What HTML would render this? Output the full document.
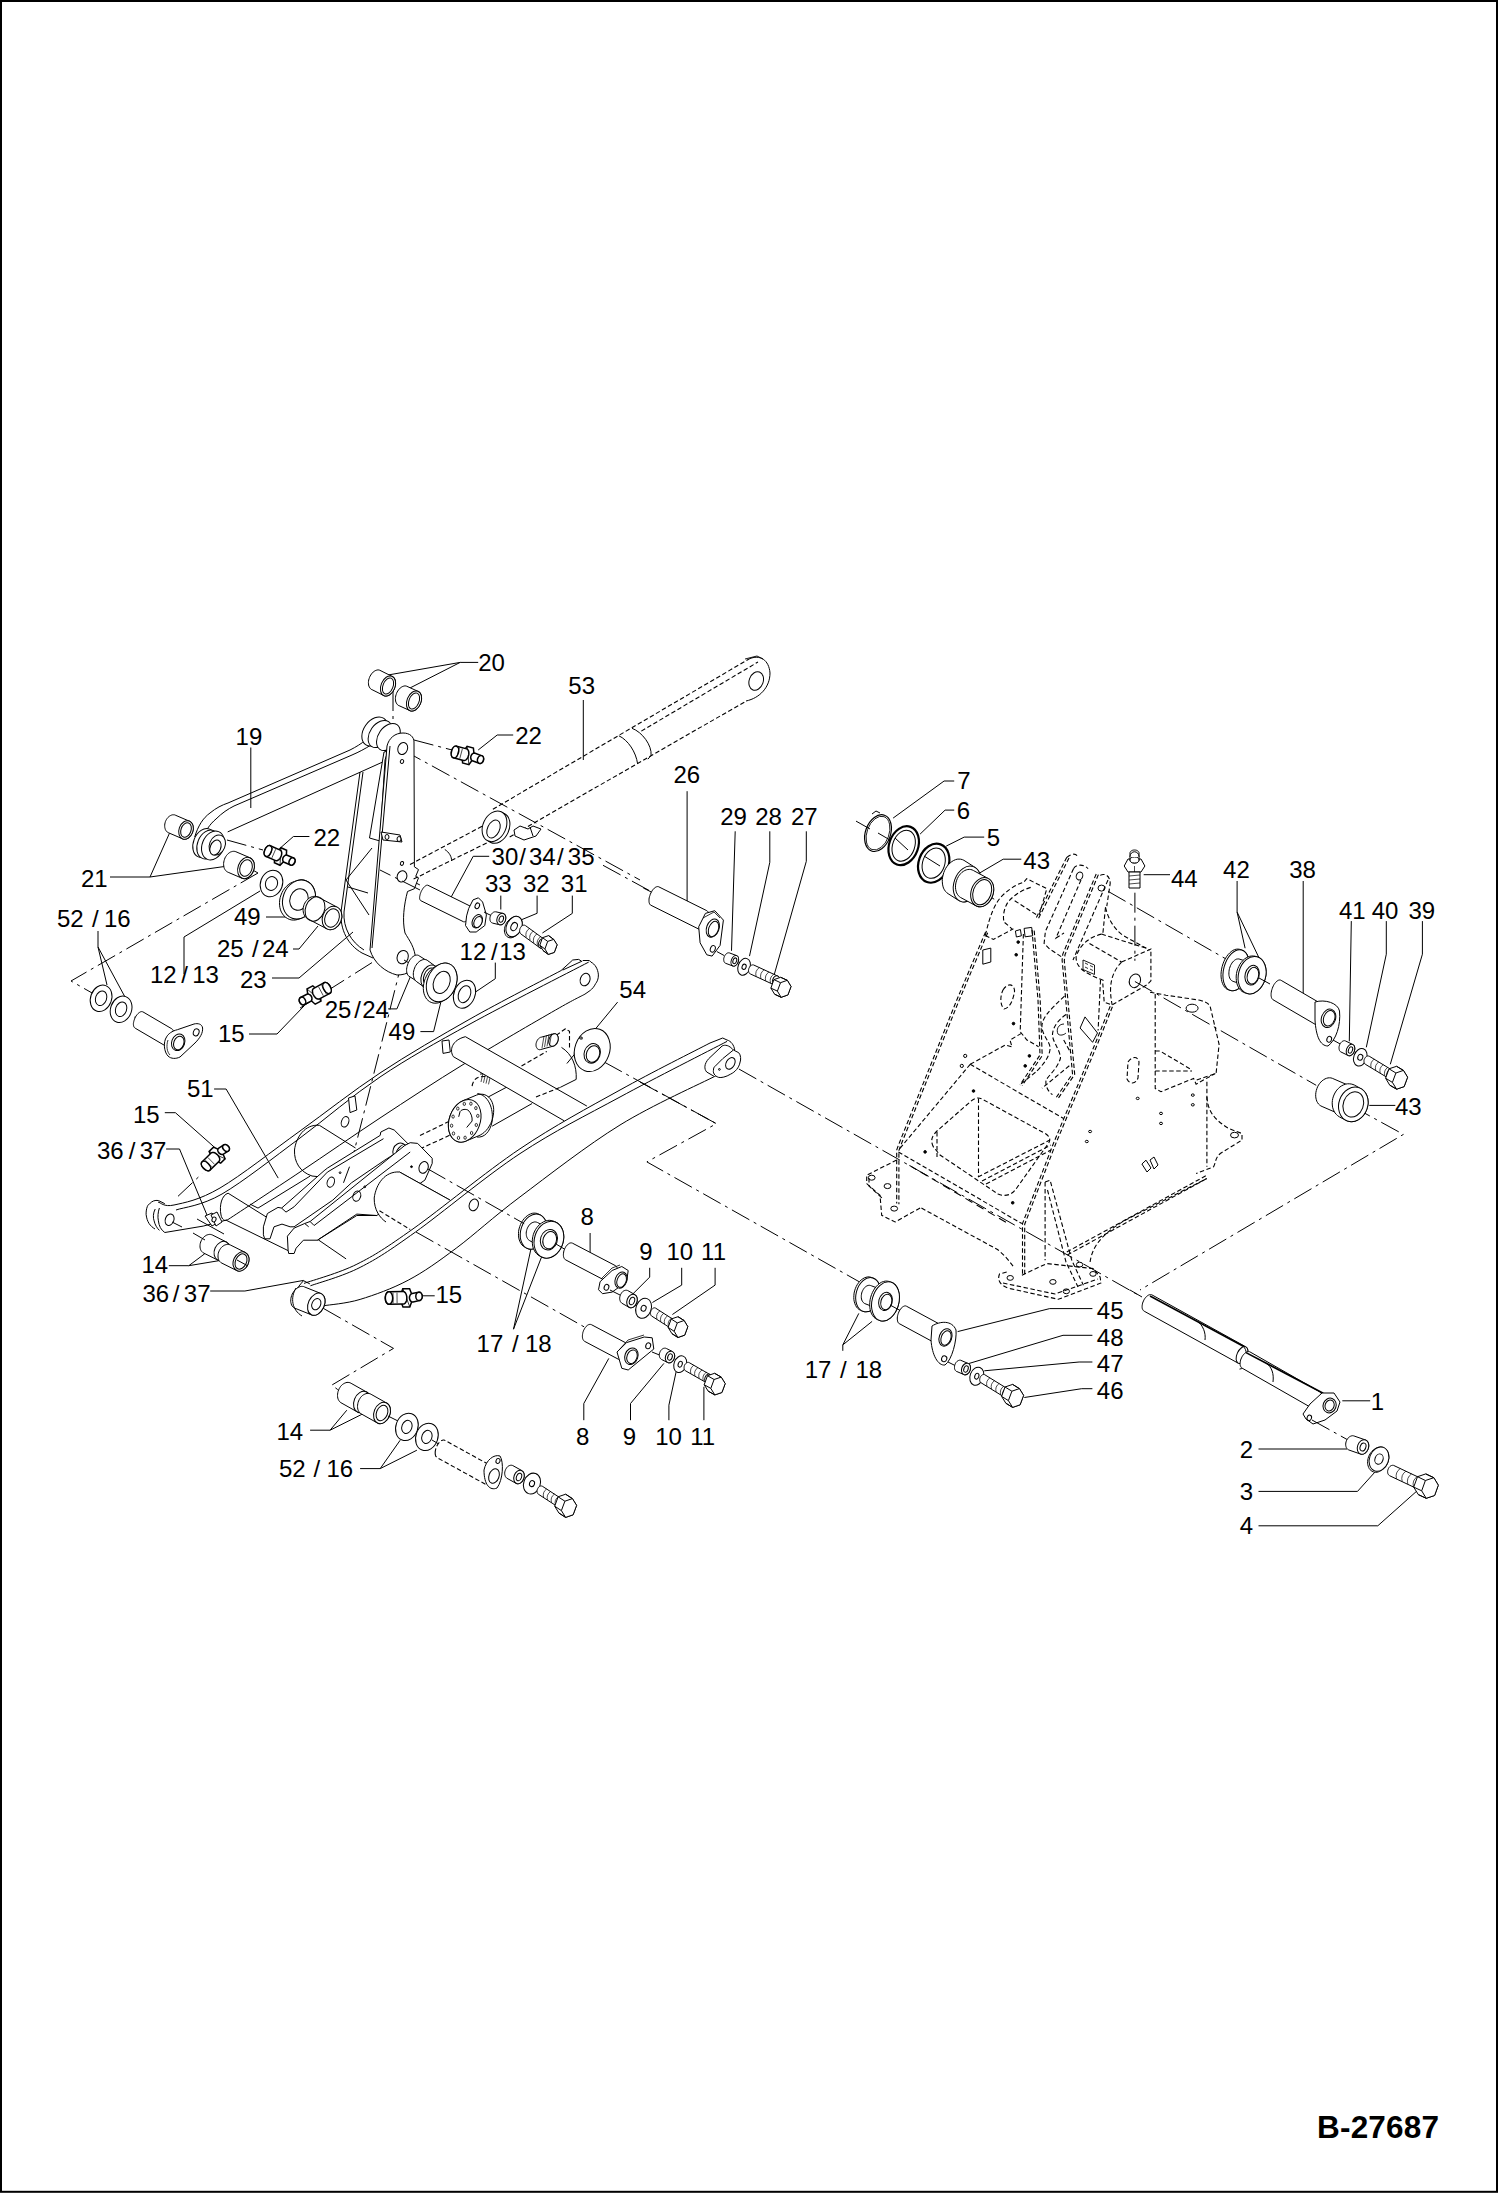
<!DOCTYPE html>
<html><head><meta charset="utf-8">
<style>
html,body{margin:0;padding:0;background:#fff;}
body{width:1498px;height:2193px;overflow:hidden;position:relative;}
svg{position:absolute;left:0;top:0;}
text{font-family:"Liberation Sans",sans-serif;font-size:24px;fill:#000;}
.l{stroke:#000;stroke-width:1;fill:none;}
.p{stroke:#000;stroke-width:1;fill:#fff;}
.c{stroke:#000;stroke-width:1;fill:none;stroke-dasharray:20 5 3 5;}
.d{stroke:#000;stroke-width:1.1;fill:none;stroke-dasharray:4.5 2.5;}
.d2{stroke:#000;stroke-width:1.1;fill:none;stroke-dasharray:8 5;}
</style></head>
<body>
<svg width="1498" height="2193" viewBox="0 0 1498 2193">
<rect x="1" y="1" width="1496" height="2190.8" fill="none" stroke="#000" stroke-width="2"/>
<text x="1317" y="2137.5" style="font-weight:bold;font-size:31.5px;letter-spacing:0.2px">B-27687</text>
<polyline class="l" points="250.8,747.5 250.8,808"/>
<polyline class="l" points="309.4,836.5 293.4,836.5 280.3,848"/>
<polyline class="l" points="110,877 150,877 170,832"/>
<polyline class="l" points="150,877 228,866"/>
<polyline class="l" points="98,931 98,947 107,985"/>
<polyline class="l" points="98,947 125,997"/>
<polyline class="l" points="266,917 294,917"/>
<polyline class="l" points="293,949 299,949 318,926"/>
<polyline class="l" points="184,974 184,937 260,891"/>
<polyline class="l" points="272,978 299,978 353,932"/>
<polyline class="l" points="249,1034 277,1034 304,1006"/>
<polyline class="l" points="214.1,1089 226.1,1089 278.2,1178.1"/>
<polyline class="l" points="460.2,662.4 478.2,662.4"/>
<polyline class="l" points="460.2,662.4 388,675"/>
<polyline class="l" points="460.2,662.4 406,690"/>
<polyline class="l" points="583.3,700 583.3,760"/>
<polyline class="l" points="513.2,735 497.2,735 478.2,750"/>
<polyline class="l" points="489.2,856.3 473.2,856.3 447.2,904.4"/>
<polyline class="l" points="500.8,895.6 500.8,909.5"/>
<polyline class="l" points="537.1,895.6 537.1,913.3 521.6,919.7"/>
<polyline class="l" points="572.3,895.6 572.3,913.4 542.4,933"/>
<polyline class="l" points="687.1,791.2 687.1,907.4"/>
<polyline class="l" points="735.2,831.3 731.5,950.8"/>
<polyline class="l" points="769.8,831.3 769.8,862.3 749.5,956.1"/>
<polyline class="l" points="806.3,831.3 806.3,861.3 774.2,974.8"/>
<polyline class="l" points="954.2,781 944.1,781 893.1,818.1"/>
<polyline class="l" points="954.2,810.1 945.1,810.1 920.1,834.1"/>
<polyline class="l" points="984.2,837.1 964.2,837.1 946.2,846.1"/>
<polyline class="l" points="1021.3,859.2 1003.2,859.2 974.2,876.2"/>
<polyline class="l" points="1143.7,874.7 1170,874.7"/>
<polyline class="l" points="1237.1,881 1237.1,912.1 1245.1,948.2"/>
<polyline class="l" points="1237.1,912.1 1259.2,958.2"/>
<polyline class="l" points="1303.2,881 1303.2,997.2"/>
<polyline class="l" points="1351.3,921.1 1349.3,1041.3"/>
<polyline class="l" points="1386.3,921.1 1386.3,954.2 1366.3,1047.3"/>
<polyline class="l" points="1422.4,921.1 1422.4,954.2 1390.3,1064.3"/>
<polyline class="l" points="1395.3,1105.4 1369.3,1105.4"/>
<polyline class="l" points="617.6,1002.1 566.9,1063.5"/>
<polyline class="l" points="420.4,1031.6 433.6,1031.6 441.7,998.6"/>
<polyline class="l" points="495.3,962.6 495.3,978.7 475.5,992"/>
<polyline class="l" points="590.1,1233 590.1,1257.1"/>
<polyline class="l" points="649.7,1267.8 649.7,1277.1 632.3,1294.5"/>
<polyline class="l" points="681.7,1267.8 681.7,1285.1 652.4,1302.5"/>
<polyline class="l" points="715.1,1267.8 715.1,1285.1 672.4,1314.5"/>
<polyline class="l" points="434.7,1295.8 420,1295.8"/>
<polyline class="l" points="513.5,1329.2 530.9,1249.1"/>
<polyline class="l" points="513.5,1329.2 541.5,1257.1"/>
<polyline class="l" points="164.8,1112.7 175.4,1112.7 215.5,1148.2"/>
<polyline class="l" points="166.1,1149 179.5,1149 207.5,1216.3"/>
<polyline class="l" points="168.8,1265.7 188.8,1265.7 204.8,1253.7"/>
<polyline class="l" points="188.8,1265.7 228.9,1259"/>
<polyline class="l" points="210.2,1291 244.9,1291 303.6,1280.4"/>
<polyline class="l" points="388.1,1008.9 396.9,1008.9 413.8,968.5"/>
<polyline class="l" points="1092.4,1308.6 1049.7,1308.6 957.6,1331.6"/>
<polyline class="l" points="1092.4,1335.3 1063,1335.3 966.9,1364.1"/>
<polyline class="l" points="1092.4,1362 1079.1,1362 984.3,1370.8"/>
<polyline class="l" points="1092.4,1388.7 1081.7,1388.7 1024.3,1397.5"/>
<polyline class="l" points="842.8,1350.8 842.8,1344.9 858.8,1313.4"/>
<polyline class="l" points="842.8,1344.9 872.1,1321.4"/>
<polyline class="l" points="1342.3,1400.8 1370.2,1400.8"/>
<polyline class="l" points="1258.5,1449 1347.3,1449"/>
<polyline class="l" points="1258.5,1491.4 1357.5,1491.4 1375.2,1471.8"/>
<polyline class="l" points="1258.5,1525.8 1377.8,1525.8 1417.1,1490.8"/>
<polyline class="l" points="310.1,1430.2 330.1,1430.2 346.8,1410.2"/>
<polyline class="l" points="330.1,1430.2 363.5,1413.5"/>
<polyline class="l" points="360.1,1468.6 380.2,1468.6 400.2,1440.2"/>
<polyline class="l" points="380.2,1468.6 416.9,1450.2"/>
<polyline class="l" points="583.8,1420.2 583.8,1403.5 608.8,1358.4"/>
<polyline class="l" points="630.5,1420.2 630.5,1403.5 663.9,1363.4"/>
<polyline class="l" points="668.9,1420.2 668.9,1405.2 677.2,1366.8"/>
<polyline class="l" points="703.9,1420.2 703.9,1386.8"/>
<polyline class="c" points="227,840 263,850"/>
<polyline class="c" points="258,873 71,981 136,1018"/>
<polyline class="c" points="242,864 258,873"/>
<polyline class="c" points="393,691 393,726"/>
<polyline class="c" points="414,740 452,750"/>
<polyline class="c" points="403,750 640,880"/>
<polyline class="c" points="402,876 420,885"/>
<polyline class="c" points="372,962.6 300,1008.1"/>
<polyline class="c" points="402.8,958.2 377.8,1058 352,1160"/>
<path class="l" d="M194.7,837 C198,826 203,818 210,813 C216,808 222,805 228,803 L350,750 C362,744 372,736 379,727"/>
<path class="l" d="M201.7,841 C205,831 210,824 216,819 C222,813 228,809 234,806 L352,755 C366,749 376,742 385.6,734.7"/>
<polyline class="l" points="227.7,831.9 385.6,760.7"/>
<ellipse class="p" style="fill:#fff" cx="374.7" cy="731.5" rx="11" ry="16" transform="rotate(35 374.7 731.5)"/>
<ellipse class="p" style="fill:#fff" cx="380" cy="734" rx="10" ry="15" transform="rotate(35 380 734)"/>
<ellipse class="p" style="fill:#fff" cx="388.4" cy="737" rx="10" ry="15" transform="rotate(35 388.4 737)"/>
<ellipse class="p" style="fill:#fff" cx="204" cy="843" rx="10.5" ry="15" transform="rotate(22 204 843)"/>
<ellipse class="p" style="fill:#fff" cx="208" cy="844.5" rx="10.5" ry="15" transform="rotate(22 208 844.5)"/>
<ellipse class="p" style="fill:#fff" cx="213" cy="845.5" rx="10.8" ry="15" transform="rotate(22 213 845.5)"/>
<ellipse class="p" style="fill:#fff" cx="217.3" cy="845" rx="7.8" ry="10.4" transform="rotate(22 217.3 845)"/>
<ellipse class="p" style="fill:#fff" cx="215.5" cy="847.5" rx="5.2" ry="7.8" transform="rotate(22 215.5 847.5)"/>
<path class="l" d="M360,772 L341,912 C340,930 348,945 362,953 L373,958"/>
<path class="l" d="M363,772 L344,912 C343,928 351,942 364,950"/>
<polygon class="p" fill="#fff" points="388,751 384,752 369.5,838 380,841 385,760"/>
<path class="p" d="M387,746 C389,738 395,733 403,733 C410,733 414,737 414,742 L414.4,866.8 L418.5,869.6 L415.7,876.4 L418.5,877.8 L414.4,888.7 L407.5,891.5 C404,905 402,920 405,933 C409,940 415,947 415.7,960 C415,970 408,975 397,975 C385,972 374,963 370,950 Z"/>
<path class="l" d="M390,746 L372,948"/>
<ellipse class="p" style="fill:#fff" cx="402.7" cy="748.5" rx="4.8" ry="6.2" transform="rotate(20 402.7 748.5)"/>
<ellipse class="p" style="fill:#fff" cx="402" cy="761.5" rx="1.6" ry="2" transform="rotate(20 402 761.5)"/>
<ellipse class="p" style="fill:#fff" cx="402" cy="863.4" rx="1.6" ry="2" transform="rotate(20 402 863.4)"/>
<ellipse class="p" style="fill:#fff" cx="402" cy="876.4" rx="4.8" ry="5.7" transform="rotate(20 402 876.4)"/>
<ellipse class="p" style="fill:#fff" cx="402.7" cy="957.1" rx="5.5" ry="6.8" transform="rotate(20 402.7 957.1)"/>
<polygon class="p" fill="#fff" points="381,832 400,835 402,842 383,840"/>
<ellipse class="p" style="fill:#fff" cx="387" cy="837" rx="2" ry="2.5" transform="rotate(0 387 837)"/>
<ellipse class="p" style="fill:#fff" cx="399" cy="839" rx="2" ry="2.5" transform="rotate(0 399 839)"/>
<polyline class="l" points="346,880 372,848"/>
<polyline class="l" points="346,880 369,915"/>
<polyline class="l" points="348,887 368,893"/>
<polygon class="p" fill="#fff" points="368.4,682.6 368.5,681.3 368.7,680 369.1,678.7 369.5,677.4 370.1,676.1 370.8,675 371.5,673.9 372.4,672.9 373.2,672 374.2,671.3 375.2,670.7 376.2,670.3 377.1,670 378.1,669.9 379.1,670 379.9,670.3 391.9,676.3 392.8,676.7 393.5,677.3 394.1,678 394.6,678.9 395.1,679.9 395.4,681 395.5,682.1 395.6,683.4 395.5,684.7 395.3,686 394.9,687.3 394.5,688.6 393.9,689.9 393.2,691 392.5,692.1 391.6,693.1 390.8,694 389.8,694.7 388.8,695.3 387.8,695.7 386.9,696 385.9,696.1 384.9,696 384.1,695.7 372.1,689.7 371.2,689.3 370.5,688.7 369.9,688 369.4,687.1 368.9,686.1 368.6,685 368.5,683.9"/>
<ellipse class="p" style="fill:#fff" cx="388" cy="686" rx="7" ry="10.5" transform="rotate(22 388 686)"/>
<ellipse class="p" style="fill:#fff" cx="388" cy="686" rx="5" ry="8.5" transform="rotate(22 388 686)"/>
<polygon class="p" fill="#fff" points="395.4,698.6 395.5,697.3 395.7,696 396.1,694.7 396.5,693.4 397.1,692.1 397.8,691 398.5,689.9 399.4,688.9 400.2,688 401.2,687.3 402.2,686.7 403.2,686.3 404.1,686 405.1,685.9 406.1,686 406.9,686.3 417.9,691.3 418.8,691.7 419.5,692.3 420.1,693 420.6,693.9 421.1,694.9 421.4,696 421.5,697.1 421.6,698.4 421.5,699.7 421.3,701 420.9,702.3 420.5,703.6 419.9,704.9 419.2,706 418.5,707.1 417.6,708.1 416.8,709 415.8,709.7 414.8,710.3 413.8,710.7 412.9,711 411.9,711.1 410.9,711 410.1,710.7 399.1,705.7 398.2,705.3 397.5,704.7 396.9,704 396.4,703.1 395.9,702.1 395.6,701 395.5,699.9"/>
<ellipse class="p" style="fill:#fff" cx="414" cy="701" rx="7" ry="10.5" transform="rotate(22 414 701)"/>
<ellipse class="p" style="fill:#fff" cx="414" cy="701" rx="5" ry="8.5" transform="rotate(22 414 701)"/>
<polygon class="p" fill="#fff" points="164.7,825.2 164.8,824 165.1,822.8 165.4,821.6 165.9,820.5 166.5,819.4 167.2,818.4 167.9,817.5 168.8,816.7 169.7,816 170.6,815.5 171.5,815.1 172.5,814.8 173.4,814.8 174.4,814.8 175.2,815.1 189.2,821.1 190.1,821.5 190.8,822 191.5,822.7 192.1,823.5 192.6,824.4 192.9,825.4 193.2,826.5 193.3,827.6 193.3,828.8 193.2,830 192.9,831.2 192.6,832.4 192.1,833.5 191.5,834.6 190.8,835.6 190.1,836.5 189.2,837.3 188.3,838 187.4,838.5 186.5,838.9 185.5,839.2 184.6,839.2 183.6,839.2 182.8,838.9 168.8,832.9 167.9,832.5 167.2,832 166.5,831.3 165.9,830.5 165.4,829.6 165.1,828.6 164.8,827.5 164.7,826.4"/>
<ellipse class="p" style="fill:#fff" cx="186" cy="830" rx="7" ry="9.5" transform="rotate(20 186 830)"/>
<ellipse class="p" style="fill:#fff" cx="186" cy="830" rx="5" ry="7.5" transform="rotate(20 186 830)"/>
<polygon class="p" fill="#fff" points="223.6,863.4 223.8,862 224.1,860.6 224.5,859.3 225,857.9 225.7,856.7 226.5,855.5 227.4,854.5 228.3,853.5 229.3,852.8 230.4,852.1 231.5,851.7 232.6,851.4 233.7,851.3 234.8,851.4 235.8,851.7 249.8,857.7 250.7,858.1 251.6,858.7 252.3,859.5 253,860.4 253.6,861.5 254,862.6 254.2,863.9 254.4,865.2 254.4,866.6 254.2,868 253.9,869.4 253.5,870.7 253,872.1 252.3,873.3 251.5,874.5 250.6,875.5 249.7,876.5 248.7,877.2 247.6,877.9 246.5,878.3 245.4,878.6 244.3,878.7 243.2,878.6 242.2,878.3 228.2,872.3 227.3,871.9 226.4,871.3 225.7,870.5 225,869.6 224.4,868.5 224,867.4 223.8,866.1 223.6,864.8"/>
<ellipse class="p" style="fill:#fff" cx="246" cy="868" rx="8" ry="11" transform="rotate(20 246 868)"/>
<ellipse class="p" style="fill:#fff" cx="246" cy="868" rx="6" ry="8.5" transform="rotate(20 246 868)"/>
<polygon class="p" fill="#fff" points="286.2,859 280,865.3 274.4,862.8 274.8,854 281,847.7 286.6,850.2" style="stroke-width:1.5"/>
<polyline class="l" points="280,865.3 281,847.7" style="stroke-width:0.8"/>
<polygon class="p" fill="#fff" points="282.7,859.5 282.7,859.1 282.8,858.6 282.9,858.1 283.1,857.6 283.3,857.2 283.6,856.8 283.9,856.4 284.2,856.1 284.6,855.8 284.9,855.5 285.3,855.3 285.7,855.2 286.1,855.1 286.5,855.1 286.9,855.2 287.2,855.3 293.5,858 293.9,858.2 294.1,858.4 294.4,858.7 294.6,859.1 294.8,859.4 294.9,859.9 295,860.3 295,860.8 295,861.2 294.9,861.7 294.8,862.2 294.6,862.6 294.4,863.1 294.1,863.5 293.8,863.9 293.5,864.2 293.1,864.5 292.8,864.8 292.4,865 292,865.1 291.6,865.1 291.2,865.2 290.8,865.1 290.5,865 284.2,862.3 283.9,862.1 283.6,861.9 283.3,861.6 283.1,861.2 282.9,860.9 282.8,860.4 282.7,860" style="stroke-width:1.5"/>
<ellipse class="p" style="fill:#fff;stroke-width:1.5" cx="292" cy="861.5" rx="2.8" ry="3.8" transform="rotate(23.7 292 861.5)"/>
<polygon class="p" fill="#fff" points="264.2,853.1 264.2,852.5 264.3,851.8 264.5,851.1 264.7,850.4 265,849.7 265.3,849 265.6,848.4 266.1,847.8 266.5,847.2 267,846.8 267.5,846.4 268,846 268.5,845.8 269,845.7 269.4,845.6 269.9,845.6 270.3,845.8 280.2,850.1 280.6,850.4 280.9,850.7 281.2,851 281.4,851.5 281.6,852 281.7,852.6 281.7,853.2 281.7,853.9 281.6,854.6 281.4,855.3 281.2,856 280.9,856.7 280.6,857.4 280.2,858 279.8,858.6 279.4,859.1 278.9,859.6 278.4,860 277.9,860.3 277.4,860.5 276.9,860.7 276.5,860.7 276,860.7 275.6,860.6 265.7,856.2 265.3,856 265,855.7 264.7,855.3 264.5,854.9 264.3,854.3 264.2,853.7" style="stroke-width:1.5"/>
<ellipse class="p" style="fill:#fff;stroke-width:1.5" cx="268" cy="851" rx="3.3" ry="5.7" transform="rotate(23.7 268 851)"/>
<polyline class="l" points="272.8,847.9 269,856.6" style="stroke-width:0.7"/>
<polyline class="l" points="275.7,849.2 271.9,857.9" style="stroke-width:0.7"/>
<ellipse class="p" style="fill:#fff" cx="271.5" cy="883.5" rx="11" ry="13.5" transform="rotate(20 271.5 883.5)"/>
<ellipse class="p" style="fill:#fff" cx="271.5" cy="883.5" rx="6" ry="7" transform="rotate(20 271.5 883.5)"/>
<polygon class="p" fill="#fff" points="279.5,902.6 279.7,900.1 280.2,897.5 281,895 282,892.6 283.2,890.4 284.7,888.2 286.4,886.4 288.2,884.7 290.2,883.3 292.3,882.3 294.4,881.5 297.4,880.5 299.6,880 301.7,879.9 303.8,880.1 305.8,880.7 307.7,881.6 309.5,882.8 311.1,884.2 312.4,886 313.6,887.9 314.5,890.1 315.1,892.4 315.4,894.8 315.5,897.4 315.3,899.9 314.8,902.5 314,905 313,907.4 311.8,909.6 310.3,911.8 308.6,913.6 306.8,915.3 304.8,916.7 302.7,917.7 300.6,918.5 297.6,919.5 295.4,920 293.3,920.1 291.2,919.9 289.2,919.3 287.3,918.4 285.5,917.2 283.9,915.8 282.6,914 281.4,912.1 280.5,909.9 279.9,907.6 279.6,905.2"/>
<ellipse class="p" style="fill:#fff" cx="299" cy="899.5" rx="16" ry="20" transform="rotate(20 299 899.5)"/>
<ellipse class="p" style="fill:#fff" cx="299" cy="899.5" rx="9" ry="11" transform="rotate(20 299 899.5)"/>
<polygon class="p" fill="#fff" points="303.1,910.5 303.1,909 303.3,907.4 303.7,905.9 304.2,904.4 304.9,903 305.7,901.7 306.6,900.5 307.6,899.4 308.8,898.4 309.9,897.6 311.2,897 312.5,896.6 313.8,896.4 315.1,896.3 316.3,896.5 317.5,896.9 318.6,897.4 337.6,907.4 338.6,908.2 339.5,909.1 340.3,910.1 340.9,911.3 341.4,912.6 341.7,914 341.9,915.5 341.9,917 341.7,918.6 341.3,920.1 340.8,921.6 340.1,923 339.3,924.3 338.4,925.5 337.4,926.6 336.2,927.6 335.1,928.4 333.8,929 332.5,929.4 331.2,929.6 329.9,929.7 328.7,929.5 327.5,929.1 326.4,928.6 307.4,918.6 306.4,917.8 305.5,916.9 304.7,915.9 304.1,914.7 303.6,913.4 303.3,912"/>
<ellipse class="p" style="fill:#fff" cx="332" cy="918" rx="9.5" ry="12" transform="rotate(22 332 918)"/>
<ellipse class="p" style="fill:#fff" cx="332" cy="918" rx="7" ry="9.5" transform="rotate(22 332 918)"/>
<ellipse class="l" style="fill:none" cx="315" cy="909" rx="9.5" ry="12.5" transform="rotate(22 315 909)"/>
<polygon class="p" fill="#fff" points="474.3,757.2 468.9,764.7 462.6,763 461.7,753.8 467.1,746.3 473.4,748" style="stroke-width:1.5"/>
<polyline class="l" points="468.9,764.7 467.1,746.3" style="stroke-width:0.8"/>
<polygon class="p" fill="#fff" points="470.7,757.8 470.7,757.3 470.8,756.8 470.9,756.3 471.1,755.8 471.3,755.3 471.5,754.9 471.8,754.5 472.1,754.1 472.5,753.8 472.9,753.5 473.2,753.3 473.6,753.2 474.1,753.1 474.4,753.1 474.8,753.2 475.2,753.3 481.9,755.8 482.2,756 482.6,756.2 482.9,756.5 483.1,756.9 483.3,757.3 483.4,757.8 483.5,758.2 483.6,758.7 483.6,759.2 483.5,759.8 483.4,760.3 483.2,760.8 483,761.2 482.8,761.7 482.5,762.1 482.2,762.5 481.8,762.8 481.4,763 481.1,763.2 480.6,763.4 480.2,763.4 479.9,763.4 479.5,763.4 479.1,763.2 472.4,760.8 472,760.6 471.7,760.3 471.4,760 471.2,759.6 471,759.2 470.9,758.8 470.8,758.3" style="stroke-width:1.5"/>
<ellipse class="p" style="fill:#fff;stroke-width:1.5" cx="480.5" cy="759.5" rx="3" ry="4" transform="rotate(15.1 480.5 759.5)"/>
<polygon class="p" fill="#fff" points="451.3,753.4 451.3,752.6 451.4,751.9 451.6,751.1 451.9,750.3 452.1,749.6 452.5,748.9 452.9,748.3 453.3,747.8 453.7,747.3 454.2,746.9 454.7,746.5 455.1,746.3 455.6,746.2 456.1,746.1 456.6,746.2 466.7,748.9 467.1,749.1 467.5,749.4 467.8,749.7 468.1,750.2 468.4,750.7 468.6,751.3 468.7,751.9 468.8,752.6 468.8,753.3 468.8,754.1 468.7,754.9 468.5,755.6 468.2,756.4 468,757.1 467.6,757.8 467.2,758.4 466.8,759 466.4,759.5 465.9,759.9 465.4,760.2 465,760.4 464.5,760.5 464,760.6 463.5,760.5 453.4,757.8 453,757.6 452.6,757.4 452.3,757 452,756.6 451.7,756 451.5,755.5 451.4,754.8 451.3,754.1" style="stroke-width:1.5"/>
<ellipse class="p" style="fill:#fff;stroke-width:1.5" cx="455" cy="752" rx="3.5" ry="6" transform="rotate(15.1 455 752)"/>
<polyline class="l" points="459.3,748 456.7,757.6" style="stroke-width:0.7"/>
<polyline class="l" points="462.4,748.8 459.8,758.5" style="stroke-width:0.7"/>
<polygon class="p" fill="#fff" points="308.3,998.1 307,988.9 312.8,985.8 319.7,991.9 321,1001.1 315.2,1004.2" style="stroke-width:1.5"/>
<polyline class="l" points="307,988.9 321,1001.1" style="stroke-width:0.8"/>
<polygon class="p" fill="#fff" points="299.2,1000 299.3,999.5 299.4,999.1 299.5,998.7 299.7,998.3 300,998 300.3,997.7 300.6,997.5 306.8,994.3 307.2,994.2 307.6,994.1 308,994 308.4,994.1 308.8,994.2 309.2,994.4 309.7,994.6 310.1,994.9 310.4,995.2 310.8,995.6 311.1,996 311.4,996.4 311.6,996.9 311.8,997.4 311.9,997.9 311.9,998.4 312,998.9 311.9,999.3 311.8,999.8 311.7,1000.2 311.5,1000.5 311.2,1000.9 310.9,1001.1 310.6,1001.4 304.4,1004.5 304,1004.7 303.6,1004.8 303.2,1004.8 302.8,1004.8 302.4,1004.7 302,1004.5 301.6,1004.3 301.2,1004 300.8,1003.7 300.4,1003.3 300.1,1002.9 299.9,1002.4 299.6,1002 299.5,1001.5 299.3,1001 299.3,1000.5" style="stroke-width:1.5"/>
<ellipse class="p" style="fill:#fff;stroke-width:1.5" cx="302.5" cy="1001" rx="3" ry="4" transform="rotate(151.7 302.5 1001)"/>
<polygon class="p" fill="#fff" points="312.4,991 312.5,990.4 312.6,989.8 312.8,989.3 313.1,988.9 313.4,988.6 313.8,988.3 324.2,982.7 324.6,982.5 325.1,982.5 325.6,982.5 326.1,982.6 326.6,982.8 327.2,983.1 327.7,983.5 328.2,983.9 328.8,984.5 329.2,985 329.7,985.7 330.1,986.3 330.4,987 330.7,987.8 330.9,988.5 331.1,989.2 331.2,989.9 331.2,990.6 331.1,991.2 331,991.8 330.8,992.2 330.6,992.7 330.2,993 329.8,993.3 319.5,998.9 319.1,999 318.6,999.1 318.1,999.1 317.6,999 317,998.8 316.5,998.5 315.9,998.1 315.4,997.7 314.9,997.1 314.4,996.5 314,995.9 313.6,995.2 313.2,994.5 312.9,993.8 312.7,993.1 312.6,992.4 312.5,991.7" style="stroke-width:1.5"/>
<ellipse class="p" style="fill:#fff;stroke-width:1.5" cx="327" cy="988" rx="3.5" ry="6" transform="rotate(151.7 327 988)"/>
<polyline class="l" points="326.3,994 321.6,985.2" style="stroke-width:0.7"/>
<polyline class="l" points="323.3,995.7 318.6,986.9" style="stroke-width:0.7"/>
<ellipse class="p" style="fill:#fff" cx="101.1" cy="998.3" rx="10.5" ry="13.5" transform="rotate(20 101.1 998.3)"/>
<ellipse class="p" style="fill:#fff" cx="101.1" cy="998.3" rx="5.5" ry="7.5" transform="rotate(20 101.1 998.3)"/>
<ellipse class="p" style="fill:#fff" cx="121.1" cy="1009.3" rx="10.5" ry="13.5" transform="rotate(20 121.1 1009.3)"/>
<ellipse class="p" style="fill:#fff" cx="121.1" cy="1009.3" rx="5.5" ry="7.5" transform="rotate(20 121.1 1009.3)"/>
<polygon class="p" fill="#fff" points="133.4,1024.4 133.4,1023.5 133.6,1022.4 133.8,1021.4 134.1,1020.3 134.5,1019.2 134.9,1018.1 135.4,1017 136.1,1016 136.7,1015.1 137.4,1014.3 138.1,1013.5 138.8,1012.9 139.5,1012.4 140.2,1012 140.9,1011.7 141.6,1011.6 142.2,1011.7 142.8,1011.8 171.8,1028.8 172.3,1029.2 172.7,1029.6 173.1,1030.2 173.3,1030.9 173.5,1031.7 173.6,1032.6 173.6,1033.5 173.4,1034.6 173.2,1035.6 172.9,1036.7 172.5,1037.8 172.1,1038.9 171.6,1040 170.9,1041 170.3,1041.9 169.6,1042.7 168.9,1043.5 168.2,1044.1 167.5,1044.6 166.8,1045 166.1,1045.3 165.4,1045.4 164.8,1045.3 164.2,1045.2 135.2,1028.2 134.7,1027.8 134.3,1027.4 133.9,1026.8 133.7,1026.1 133.5,1025.3"/>
<path class="p" d="M166.6,1036.9 C163,1042 164,1052 168,1056 C171,1059 176,1059 180,1057 L195,1043 C200,1038 203,1033 202.6,1028 C202,1024 198,1023 194,1024 L177.4,1029.7 C172,1031 168,1034 166.6,1036.9 Z"/>
<path class="l" d="M168,1040 C166,1046 167,1052 170,1055" style="stroke-width:0.8"/>
<ellipse class="p" style="fill:#fff" cx="178.2" cy="1042.3" rx="6.5" ry="8.5" transform="rotate(20 178.2 1042.3)"/>
<ellipse class="p" style="fill:#fff" cx="178.8" cy="1043" rx="5" ry="7" transform="rotate(20 178.8 1043)"/>
<ellipse class="p" style="fill:#fff" cx="196.2" cy="1032.3" rx="2.8" ry="3.6" transform="rotate(20 196.2 1032.3)"/>
<polyline class="c" points="404,960 414,966"/>
<polygon class="p" fill="#fff" points="406.6,970.6 406.6,969.2 406.8,967.8 407.1,966.4 407.5,965 408,963.6 408.6,962.2 409.3,960.9 410.1,959.7 410.9,958.6 411.8,957.6 412.8,956.7 413.8,956.1 414.7,955.5 415.7,955.2 416.6,955.1 417.5,955.1 418.3,955.3 419.1,955.8 427.1,960.8 427.7,961.3 428.3,962.1 428.7,963 429.1,964 429.3,965.2 429.4,966.4 429.4,967.8 429.2,969.2 428.9,970.6 428.5,972 428,973.4 427.4,974.8 426.7,976.1 425.9,977.3 425.1,978.4 424.2,979.4 423.2,980.3 422.2,980.9 421.3,981.5 420.3,981.8 419.4,981.9 418.5,981.9 417.7,981.7 416.9,981.2 408.9,976.2 408.3,975.7 407.7,974.9 407.3,974 406.9,973 406.7,971.8"/>
<ellipse class="p" style="fill:#fff" cx="422" cy="971" rx="6.5" ry="11.5" transform="rotate(22 422 971)"/>
<polygon class="p" fill="#fff" points="413.3,974 413.4,972.5 413.7,971 414.1,969.5 414.6,968 415.2,966.6 416,965.2 416.9,964 417.8,962.8 418.9,961.9 419.9,961 421.1,960.4 422.2,959.9 423.3,959.6 424.4,959.5 425.5,959.6 426.5,959.9 427.4,960.4 434.9,965.9 435.8,966.5 436.5,967.4 437.1,968.4 437.6,969.5 437.9,970.8 438.1,972.1 438.2,973.5 438.1,975 437.8,976.5 437.4,978 436.9,979.5 436.3,980.9 435.5,982.3 434.6,983.5 433.7,984.7 432.6,985.6 431.6,986.5 430.4,987.1 429.3,987.6 428.2,987.9 427.1,988 426,987.9 425,987.6 424.1,987.1 416.6,981.6 415.7,981 415,980.1 414.4,979.1 413.9,978 413.6,976.8 413.4,975.4"/>
<ellipse class="p" style="fill:#fff" cx="429.5" cy="976.5" rx="8" ry="12" transform="rotate(22 429.5 976.5)"/>
<ellipse class="p" style="fill:#fff" cx="429.5" cy="976.5" rx="5.5" ry="9" transform="rotate(22 429.5 976.5)"/>
<polygon class="p" fill="#fff" points="423.3,988.5 423.4,986 423.8,983.5 424.4,980.9 425.3,978.5 426.4,976.1 427.6,973.9 429.1,971.8 430.8,969.9 432.6,968.3 434.5,967 436.5,965.9 439.5,964.4 441.5,963.6 443.5,963.2 445.5,963.1 447.4,963.3 449.2,963.9 450.9,964.7 452.4,965.9 453.8,967.4 454.9,969.1 455.8,971 456.5,973.1 456.9,975.4 457.1,977.8 457,980.3 456.6,982.9 456,985.4 455.1,987.8 454.1,990.2 452.8,992.5 451.2,994.5 449.6,996.4 447.8,998 445.9,999.4 443.9,1000.4 440.9,1001.9 438.9,1002.7 436.9,1003.1 434.9,1003.2 433,1003 431.2,1002.4 429.5,1001.6 428,1000.4 426.6,999 425.5,997.2 424.6,995.3 423.9,993.2 423.5,990.9"/>
<ellipse class="p" style="fill:#fff" cx="441.7" cy="982.4" rx="14.5" ry="20" transform="rotate(22 441.7 982.4)"/>
<ellipse class="p" style="fill:#fff" cx="441.7" cy="982.4" rx="8" ry="11.5" transform="rotate(22 441.7 982.4)"/>
<ellipse class="p" style="fill:#fff" cx="464.5" cy="994.2" rx="10.5" ry="14.5" transform="rotate(22 464.5 994.2)"/>
<ellipse class="p" style="fill:#fff" cx="464.5" cy="994.2" rx="5.9" ry="8.8" transform="rotate(22 464.5 994.2)"/>
<polyline class="d" points="410,864.5 486.9,823.7"/>
<polyline class="d" points="413.6,879 494.1,839.3"/>
<path class="l" d="M444.8,849.5 C449,852 452,857 451.5,861"/>
<polyline class="d" points="492.9,809.3 749,659"/>
<polyline class="d" points="509.7,836.9 746.2,701.1"/>
<polyline class="d" points="641.3,731.1 758,662"/>
<path class="l" d="M618.9,735.8 C628,740 636,752 637.6,763.8"/>
<path class="l" d="M632,728.3 C642,732 652,745 651.1,755.4 L647.9,759.2"/>
<path class="l" d="M749,659 C760,654 769,660 770,673 C770,687 760,698 746,701"/>
<path class="l" d="M745,659 L757,656 L763,659" style="stroke-width:0.9"/>
<ellipse class="p" style="fill:#fff" cx="756.2" cy="681" rx="7" ry="9.5" transform="rotate(20 756.2 681)"/>
<ellipse class="l" style="fill:#fff" cx="497.5" cy="828" rx="11.5" ry="16" transform="rotate(25 497.5 828)"/>
<ellipse class="p" style="fill:#fff" cx="494.5" cy="826.3" rx="11.5" ry="16" transform="rotate(25 494.5 826.3)"/>
<ellipse class="p" style="fill:#fff" cx="493.5" cy="829" rx="6" ry="9.5" transform="rotate(25 493.5 829)"/>
<polygon class="p" fill="#fff" points="514,830 520,826 528,829 533,826 541,829 536,836 524,840 515,836"/>
<polyline class="l" points="530,827 533,836"/>
<polyline class="c" points="643.3,888 651.3,892"/>
<polyline class="c" points="603,865.3 649,890.4"/>
<polygon class="p" fill="#fff" points="649,900.2 649,899.1 649.2,897.9 649.5,896.7 649.9,895.5 650.3,894.2 650.9,893 651.5,891.9 652.1,890.8 652.8,889.8 653.5,889 654.3,888.2 655,887.6 655.8,887.1 656.5,886.8 657.2,886.6 657.9,886.6 658.5,886.7 706.8,910.7 707.3,911 707.8,911.5 708.1,912.1 708.4,912.9 708.6,913.7 708.7,914.7 708.7,915.8 708.6,916.9 708.5,918.1 708.2,919.3 707.8,920.5 707.4,921.8 706.8,923 706.2,924.1 705.6,925.2 704.9,926.2 704.2,927 703.4,927.8 702.7,928.4 701.9,928.9 701.2,929.2 700.5,929.4 699.9,929.4 699.2,929.3 651,905.3 650.4,905 650,904.5 649.6,903.9 649.3,903.1 649.1,902.3 649,901.3"/>
<polygon class="p" fill="#fff" points="698.7,926.8 700.1,942.8 706.8,954.8 712.1,956.1 720.1,945.4 723.4,920.1 714.8,910.7 705.4,913.4"/>
<path class="l" d="M703,918 L714,912 L720,918" style="stroke-width:0.8"/>
<ellipse class="p" style="fill:#fff" cx="712.8" cy="928.1" rx="6.2" ry="9.5" transform="rotate(20 712.8 928.1)"/>
<ellipse class="p" style="fill:#fff" cx="713.5" cy="929" rx="4.8" ry="8" transform="rotate(20 713.5 929)"/>
<ellipse class="p" style="fill:#fff" cx="712.8" cy="948.8" rx="2.4" ry="3.4" transform="rotate(20 712.8 948.8)"/>
<polyline class="c" points="716.8,951.5 724.1,955.5"/>
<polygon class="p" fill="#fff" points="723.7,959.6 723.7,959 723.8,958.3 724,957.6 724.2,956.9 724.5,956.2 724.8,955.6 725.2,955 725.6,954.5 726,954 726.5,953.6 727,953.3 727.5,953 728,952.9 728.5,952.8 728.9,952.8 729.4,952.9 736.7,955.6 737.1,955.8 737.5,956.1 737.8,956.5 738.1,956.9 738.3,957.4 738.5,958 738.5,958.6 738.6,959.2 738.6,959.9 738.5,960.6 738.3,961.3 738.1,962 737.8,962.7 737.5,963.3 737.1,963.9 736.7,964.4 736.3,964.9 735.8,965.3 735.3,965.6 734.8,965.9 734.3,966 733.8,966.1 733.4,966.1 732.9,966 725.6,963.3 725.2,963.1 724.8,962.8 724.5,962.4 724.2,962 724,961.5 723.8,960.9 723.8,960.3"/>
<ellipse class="p" style="fill:#fff" cx="734.8" cy="960.8" rx="3.5" ry="5.5" transform="rotate(20 734.8 960.8)"/>
<ellipse class="p" style="fill:#fff" cx="734.8" cy="960.8" rx="1.8" ry="3" transform="rotate(20 734.8 960.8)"/>
<ellipse class="p" style="fill:#fff" cx="744.1" cy="966.8" rx="6" ry="8.7" transform="rotate(20 744.1 966.8)"/>
<ellipse class="p" style="fill:#fff" cx="744.1" cy="966.8" rx="2" ry="2.7" transform="rotate(20 744.1 966.8)"/>
<polygon class="p" fill="#fff" points="748.5,970.8 748.5,970.2 748.6,969.6 748.8,969 748.9,968.4 749.2,967.8 749.5,967.2 749.8,966.7 750.2,966.2 750.6,965.8 751,965.5 751.5,965.2 751.9,965 752.4,964.9 752.9,964.9 753.3,964.9 753.7,965 777.6,976 778,976.2 778.4,976.4 778.7,976.8 779,977.2 779.2,977.6 779.4,978.1 779.5,978.7 779.6,979.2 779.5,979.8 779.5,980.4 779.3,981 779.2,981.6 778.9,982.2 778.6,982.8 778.3,983.3 777.9,983.8 777.5,984.2 777.1,984.5 776.6,984.8 776.2,985 775.7,985.1 775.2,985.1 774.8,985.1 774.4,985 750.5,974 750.1,973.8 749.7,973.6 749.4,973.2 749.1,972.8 748.9,972.4 748.7,971.9 748.6,971.3"/>
<ellipse class="p" style="fill:#fff" cx="776" cy="980.5" rx="3.4" ry="4.8" transform="rotate(20 776 980.5)"/>
<path class="l" d="M759.4,967.5 Q754.6,970.9 756.1,976.5" style="stroke-width:0.7"/>
<path class="l" d="M764.2,969.7 Q759.4,973.1 760.9,978.7" style="stroke-width:0.7"/>
<path class="l" d="M769.0,971.9 Q764.2,975.3 765.7,980.9" style="stroke-width:0.7"/>
<path class="l" d="M773.8,974.1 Q769.0,977.5 770.5,983.1" style="stroke-width:0.7"/>
<polygon class="p" fill="#fff" points="770.9,988.1 773.9,979.6 780.7,977.3 787.3,980.3 791,986.5 787.9,995 781.1,997.3 774.6,994.2"/>
<polygon class="p" fill="#fff" points="787.9,994.9 781.1,997.3 777.4,991.1 780.5,982.7 787.3,980.3 791,986.5"/>
<polyline class="l" points="781.1,997.3 774.6,994.2"/>
<polyline class="l" points="777.4,991.1 770.8,988.1"/>
<polyline class="l" points="780.5,982.7 773.9,979.6"/>
<polyline class="l" points="787.3,980.3 780.7,977.3"/>
<polygon class="p" fill="#fff" points="419.6,897.4 419.7,896.5 419.9,895.6 420.1,894.6 420.4,893.6 420.8,892.5 421.2,891.5 421.7,890.5 422.3,889.6 422.8,888.7 423.4,887.9 424.1,887.1 424.7,886.5 425.3,886 425.9,885.6 426.5,885.3 427.1,885.2 427.6,885.2 428,885.3 470.6,906.3 471,906.6 471.3,906.9 471.5,907.5 471.7,908.1 471.8,908.8 471.8,909.6 471.7,910.5 471.5,911.4 471.3,912.4 471,913.4 470.6,914.5 470.2,915.5 469.7,916.5 469.1,917.4 468.6,918.3 467.9,919.1 467.3,919.9 466.7,920.5 466.1,921 465.5,921.4 464.9,921.7 464.4,921.8 463.9,921.8 463.4,921.7 420.8,900.7 420.4,900.4 420.1,900.1 419.9,899.5 419.7,898.9 419.6,898.2"/>
<polygon class="p" fill="#fff" points="466.6,915.9 465.5,925.5 469.8,932 476.2,932 484.8,925.5 486.4,914.9 482.6,902 478.4,897.8 473,899.9 468.7,908.5"/>
<ellipse class="p" style="fill:#fff" cx="477.3" cy="921.3" rx="4.8" ry="7" transform="rotate(25 477.3 921.3)"/>
<ellipse class="p" style="fill:#fff" cx="478" cy="922" rx="3.8" ry="5.8" transform="rotate(25 478 922)"/>
<ellipse class="p" style="fill:#fff" cx="477.3" cy="905.8" rx="2.1" ry="3" transform="rotate(25 477.3 905.8)"/>
<polyline class="c" points="484,912 492,916"/>
<polygon class="p" fill="#fff" points="489.9,918.3 490,917.5 490.1,916.8 490.4,916 490.7,915.3 491,914.6 491.4,914 491.9,913.5 492.4,913 493,912.5 493.5,912.2 494.1,912 494.7,911.8 495.3,911.8 495.9,911.8 502.8,913.4 503.3,913.6 503.8,913.8 504.3,914.1 504.7,914.5 505.1,915 505.4,915.6 505.6,916.2 505.7,916.9 505.8,917.6 505.8,918.3 505.7,919.1 505.6,919.8 505.3,920.6 505,921.3 504.7,922 504.3,922.6 503.8,923.1 503.3,923.6 502.7,924.1 502.2,924.4 501.6,924.6 501,924.8 500.4,924.8 499.8,924.8 492.9,923.2 492.4,923 491.9,922.8 491.4,922.5 491,922.1 490.6,921.6 490.3,921 490.1,920.4 490,919.7 489.9,919"/>
<ellipse class="p" style="fill:#fff" cx="501.3" cy="919.1" rx="4.3" ry="5.9" transform="rotate(20 501.3 919.1)"/>
<ellipse class="p" style="fill:#fff" cx="501.3" cy="919.1" rx="2.1" ry="3.2" transform="rotate(20 501.3 919.1)"/>
<polygon class="p" fill="#fff" points="504.4,929.7 504.6,928.4 504.9,927 505.3,925.7 505.8,924.4 506.4,923.2 507.2,922 508.1,921 509,920 510,919.2 511.5,918.2 512.5,917.5 513.5,917 514.6,916.6 515.7,916.4 516.7,916.4 517.7,916.6 518.6,916.9 519.5,917.4 520.2,918 520.9,918.9 521.4,919.8 521.8,920.8 522.1,922 522.2,923.2 522.2,924.5 522.1,925.8 521.8,927.1 521.4,928.5 520.9,929.8 520.2,931 519.5,932.2 518.6,933.2 517.7,934.2 516.7,935 515.2,936 514.2,936.7 513.1,937.2 512.1,937.6 511,937.8 510,937.8 509,937.6 508.1,937.3 507.2,936.8 506.5,936.1 505.8,935.4 505.3,934.4 504.9,933.4 504.6,932.2 504.4,931"/>
<ellipse class="p" style="fill:#fff" cx="514.1" cy="926.6" rx="7.5" ry="10.7" transform="rotate(25 514.1 926.6)"/>
<ellipse class="p" style="fill:#fff" cx="514.1" cy="926.6" rx="3" ry="4.3" transform="rotate(25 514.1 926.6)"/>
<polygon class="p" fill="#fff" points="519.6,931.1 519.6,930.5 519.7,929.9 519.9,929.2 520,928.6 520.3,928.1 520.6,927.5 520.9,927 521.3,926.5 521.7,926.1 522.1,925.8 522.6,925.5 523,925.3 523.5,925.2 524,925.1 524.4,925.2 524.8,925.3 525.2,925.5 525.6,925.7 544.4,939.4 544.7,939.8 545,940.2 545.2,940.6 545.4,941.1 545.5,941.7 545.6,942.2 545.5,942.8 545.5,943.4 545.3,944 545.2,944.6 544.9,945.2 544.6,945.8 544.3,946.3 543.9,946.8 543.5,947.2 543.1,947.5 542.6,947.8 542.2,948 541.7,948.1 541.2,948.1 540.8,948.1 540.4,948 540,947.8 539.6,947.6 520.8,933.9 520.5,933.5 520.2,933.1 520,932.7 519.8,932.2 519.7,931.6"/>
<ellipse class="p" style="fill:#fff" cx="542" cy="943.5" rx="3.4" ry="4.8" transform="rotate(20 542 943.5)"/>
<path class="l" d="M529.5,928.4 Q524.7,931.7 526.2,937.4" style="stroke-width:0.7"/>
<path class="l" d="M533.3,931.1 Q528.5,934.5 530.0,940.1" style="stroke-width:0.7"/>
<path class="l" d="M537.0,933.8 Q532.2,937.2 533.7,942.9" style="stroke-width:0.7"/>
<path class="l" d="M540.8,936.6 Q536.0,939.9 537.5,945.6" style="stroke-width:0.7"/>
<polygon class="p" fill="#fff" points="539.8,945.2 542.5,937.7 548.6,935.6 553.7,939.4 557.1,944.9 554.3,952.4 548.3,954.4 543.1,950.6"/>
<polygon class="p" fill="#fff" points="554.3,952.4 548.3,954.4 544.9,949 547.7,941.4 553.7,939.4 557.1,944.8"/>
<polyline class="l" points="548.3,954.4 543.1,950.6"/>
<polyline class="l" points="544.9,949 539.8,945.2"/>
<polyline class="l" points="547.7,941.4 542.5,937.7"/>
<polyline class="l" points="553.7,939.4 548.6,935.6"/>
<polyline class="c" points="420,890 380,870"/>
<polyline class="l" points="856,821.1 870,829"/>
<polyline class="l" points="878,833 890,840"/>
<polyline class="l" points="963,881 994.2,899.2"/>
<ellipse class="l" style="fill:none;stroke-width:1.2" cx="878" cy="833.1" rx="12.5" ry="19" transform="rotate(20 878 833.1)"/>
<ellipse class="l" style="fill:none;stroke-width:0.8" cx="878" cy="833.1" rx="11" ry="17.5" transform="rotate(20 878 833.1)"/>
<path class="l" d="M872,814 L876,811 L880,813"/>
<ellipse class="p" style="fill:#fff;stroke-width:2.2" cx="903.7" cy="845.7" rx="14.5" ry="20" transform="rotate(20 903.7 845.7)"/>
<ellipse class="p" style="fill:#fff;stroke-width:1" cx="903.7" cy="845.7" rx="11" ry="16" transform="rotate(20 903.7 845.7)"/>
<polyline class="l" points="895,838 908,850"/>
<ellipse class="p" style="fill:#fff;stroke-width:2.2" cx="933.7" cy="863.2" rx="15" ry="20" transform="rotate(20 933.7 863.2)"/>
<ellipse class="p" style="fill:#fff;stroke-width:1" cx="933.7" cy="863.2" rx="11" ry="15.6" transform="rotate(20 933.7 863.2)"/>
<polyline class="l" points="924,856 940,866"/>
<polygon class="p" fill="#fff" points="942.3,881.8 942.3,879.5 942.6,877.2 943.1,874.9 943.8,872.5 944.7,870.3 945.8,868.2 947.1,866.2 948.6,864.5 950.2,862.9 951.8,861.6 953.6,860.5 955.4,859.7 957.2,859.2 959,859.1 960.7,859.2 962.3,859.6 963.9,860.3 974.9,867.3 976.3,868.4 977.5,869.6 978.6,871.2 979.5,872.9 980.1,874.9 980.5,876.9 980.7,879.2 980.7,881.5 980.4,883.8 979.9,886.1 979.2,888.5 978.3,890.7 977.2,892.8 975.9,894.8 974.4,896.5 972.8,898.1 971.2,899.4 969.4,900.5 967.6,901.3 965.8,901.8 964,901.9 962.3,901.8 960.7,901.4 959.1,900.7 948.1,893.7 946.7,892.6 945.5,891.4 944.4,889.8 943.5,888.1 942.9,886.1 942.5,884.1"/>
<ellipse class="p" style="fill:#fff" cx="967" cy="884" rx="13" ry="18.5" transform="rotate(20 967 884)"/>
<polygon class="p" fill="#fff" points="955.5,887.8 955.5,885.9 955.7,884 956.1,882.1 956.7,880.2 957.4,878.4 958.3,876.7 959.4,875.1 960.6,873.7 961.9,872.4 963.3,871.4 964.8,870.5 966.3,869.9 967.8,869.5 969.3,869.4 970.7,869.5 972.1,869.9 973.4,870.5 988.6,878.7 989.8,879.6 990.9,880.6 991.8,881.9 992.6,883.3 993.1,884.9 993.5,886.6 993.7,888.4 993.7,890.3 993.5,892.2 993.1,894.1 992.5,896 991.8,897.8 990.9,899.5 989.8,901.1 988.6,902.5 987.3,903.8 985.9,904.8 984.4,905.7 982.9,906.3 981.4,906.7 979.9,906.8 978.5,906.7 977.1,906.3 975.8,905.7 960.6,897.5 959.4,896.6 958.3,895.6 957.4,894.3 956.6,892.9 956.1,891.3 955.7,889.6"/>
<ellipse class="p" style="fill:#fff" cx="982.2" cy="892.2" rx="11" ry="15" transform="rotate(20 982.2 892.2)"/>
<ellipse class="p" style="fill:#fff" cx="982.2" cy="892.2" rx="9" ry="13" transform="rotate(20 982.2 892.2)"/>
<polyline class="c" points="1134.9,892.7 1134.9,960.8"/>
<polyline class="c" points="1108.2,891.4 1228.1,960.2"/>
<polyline class="c" points="1134.9,981.5 1316.2,1085.3"/>
<polyline class="c" points="1352.3,1106.4 1403.4,1134.4 1140,1290"/>
<polyline class="c" points="738.9,1069 1140,1296"/>
<polyline class="c" points="640,1082 716.4,1123.7 646.9,1161.9 862.1,1283.4"/>
<polyline class="c" points="604.3,1062.1 716.4,1123.7"/>
<polyline class="c" points="1228,960 1236,965"/>
<path class="d" d="M985.3,935.4 C990,915 995,902 1004,894 C1012,887 1018,884 1024,882 L1026.7,878.7 L1046.8,888.7 L1038.7,916.8"/>
<path class="d" d="M1030.7,887.4 C1022,890 1014,895 1008,902 C1003,910 1003,918 1004,922 L1012,928.8"/>
<polyline class="d" points="985.3,935.4 993.4,939.5 1013.4,928.8"/>
<polyline class="d" points="1014.7,900.7 1037.4,915.4"/>
<polygon class="p" fill="#fff" points="1015.4,931 1020.4,929.5 1021.4,935.8 1016.4,937"/>
<polygon class="p" fill="#fff" points="1024.1,928.4 1031.7,927.4 1032.7,935.8 1025.1,936.8"/>
<polyline class="d" points="985.5,932.1 956.8,1000 898.4,1145.2 896.7,1150 896.7,1203.6"/>
<polyline class="d" points="987.7,932.7 959,1000.6 900.6,1145.8 898.9,1150.6 898.9,1204.2"/>
<polyline class="d" points="1066.8,857.3 1036.1,918.1"/>
<polyline class="d" points="1069,857.9 1038.3,918.7"/>
<polyline class="d" points="1032,930 1038,1000 1040,1055 1020,1085"/>
<polyline class="d" points="1034.2,930.6 1040.2,1000.6 1042.2,1055.6 1022.2,1085.6"/>
<polyline class="d" points="1023.4,934.1 1020.2,1031.7 1026.9,1040 1038.6,1046.7"/>
<path class="d" d="M1066.8,857.3 C1072,853 1077,853 1078,858"/>
<path class="d" d="M1073.5,868.7 C1076,864 1084,864 1088.1,868.7"/>
<polyline class="d" points="1073.5,868.7 1045.4,931.4 1044.1,943.5 1049.4,948.8 1061.4,956.8"/>
<polyline class="d" points="1081,880 1056,938 1064,933"/>
<polyline class="d" points="1096.2,874 1062.8,954.1 1062.1,960 1072.5,1073.8 1054.9,1099.4"/>
<polyline class="d" points="1098.4,874.6 1065,954.7 1064.3,960.6 1074.7,1074.4 1057.1,1100"/>
<ellipse class="l" style="fill:none" cx="1079.5" cy="876" rx="3.2" ry="4" transform="rotate(20 1079.5 876)"/>
<path class="d" d="M1100.2,875.4 C1104,873 1110,875 1110.2,883.4 L1106.8,906.1"/>
<ellipse class="l" style="fill:none" cx="1101.5" cy="888.1" rx="3.5" ry="3" transform="rotate(0 1101.5 888.1)"/>
<polyline class="d" points="1108,880 1073,960"/>
<path class="d" d="M1101.5,934.1 C1090,937 1080,944 1076.1,956.8 C1076,966 1081,972 1104.2,980.8"/>
<polyline class="d" points="1089.5,943.5 1121.5,962.1"/>
<polyline class="d" points="1101.5,934.1 1148.2,948.8"/>
<polyline class="d" points="1121.5,962.1 1150.9,949 1150.9,980.8 1146.9,984.8 1112.2,1004.9 1104.2,1002.2 1102.8,983.5"/>
<path class="d" d="M1121.5,962.1 C1112,972 1108,985 1112.2,1004.9"/>
<ellipse class="l" style="fill:none" cx="1134.9" cy="980.8" rx="5.5" ry="7" transform="rotate(20 1134.9 980.8)"/>
<polyline class="d" points="1105.5,907.4 1102.8,934.1"/>
<path class="d" d="M1105.5,907.4 C1108,918 1113,928 1122.9,935.4 L1149.6,950.1"/>
<polygon class="p" fill="#fff" points="1080.1,1028 1085,1016.9 1097.5,1033 1092.6,1042.3"/>
<ellipse class="p" style="fill:#000" cx="1018.2" cy="942.1" rx="1.3" ry="1.3" transform="rotate(0 1018.2 942.1)"/>
<ellipse class="p" style="fill:#000" cx="1016.2" cy="954.8" rx="1.3" ry="1.3" transform="rotate(0 1016.2 954.8)"/>
<ellipse class="p" style="fill:#000" cx="1013.5" cy="1023.6" rx="1.3" ry="1.3" transform="rotate(0 1013.5 1023.6)"/>
<ellipse class="p" style="fill:#000" cx="973.5" cy="1091" rx="1.3" ry="1.3" transform="rotate(0 973.5 1091)"/>
<ellipse class="p" style="fill:#000" cx="925.1" cy="1151.9" rx="1.3" ry="1.3" transform="rotate(0 925.1 1151.9)"/>
<ellipse class="p" style="fill:#000" cx="1012.7" cy="1202.8" rx="1.3" ry="1.3" transform="rotate(0 1012.7 1202.8)"/>
<ellipse class="p" style="fill:#000" cx="1029.4" cy="1055.9" rx="1.3" ry="1.3" transform="rotate(0 1029.4 1055.9)"/>
<ellipse class="p" style="fill:#000" cx="1025.2" cy="1065.9" rx="1.3" ry="1.3" transform="rotate(0 1025.2 1065.9)"/>
<ellipse class="l" style="fill:none" cx="965.2" cy="1055.9" rx="1.6" ry="1.6" transform="rotate(0 965.2 1055.9)"/>
<ellipse class="l" style="fill:none" cx="961.8" cy="1065.9" rx="1.6" ry="1.6" transform="rotate(0 961.8 1065.9)"/>
<polygon class="p" fill="#fff" points="982.8,950 990.8,948.1 990.8,962 982.8,964.2"/>
<path class="d" d="M1003,990 C1008,982 1015,984 1014.5,992 C1013,1000 1010,1008 1004,1009 C1000,1005 1000,996 1003,990"/>
<polyline class="d" points="970.2,1064.3 898.4,1150.2"/>
<polyline class="d" points="970.2,1064.3 1063.6,1118.5"/>
<polyline class="d" points="970.2,1064.3 1005.2,1045 1012,1047 1010,1040 1022,1033"/>
<polyline class="d" points="898.4,1151.9 1021.9,1223.6"/>
<path class="d" d="M921.4,1208.1 L997.5,1249.5 C1002,1253 1008,1259 1013.5,1266.8"/>
<polyline class="d2" points="909.4,1165.4 1006.9,1222.8"/>
<path class="d" d="M933.4,1146.9 C930,1140 932,1136 937,1131 L970,1102 C974,1098 978,1097 982,1099 L1046,1134 C1050,1137 1051,1140 1048,1144 L1016,1189 C1012,1195 1005,1197 998,1194 L940,1155 Z"/>
<polyline class="d" points="978.5,1098.5 978.5,1176.9"/>
<polyline class="d" points="937,1132 937,1157"/>
<polyline class="d" points="978,1177 1050,1140"/>
<polyline class="d" points="982,1181 1051,1145"/>
<polyline class="d" points="986,1184 1051,1150"/>
<polyline class="d" points="1110.2,1006.2 1096,1041.7 1053.4,1143.5 1022.5,1223.6 1022.5,1275.3"/>
<polyline class="d" points="1112.4,1006.8 1098.2,1042.3 1055.6,1144.1 1024.7,1224.2 1024.7,1275.9"/>
<polyline class="d" points="1155.2,994 1155.2,1088.4 1161,1091.7 1193.6,1078.4 1196.1,1084.2 1215.3,1073.4"/>
<polyline class="d" points="1155.2,1051 1160,1051 1192,1070"/>
<polyline class="d" points="1155.2,1071 1192,1071"/>
<path class="d" d="M1150,992.2 L1166,995.2 L1200,1000.2 C1206,1002 1209,1004 1210.1,1006.2 L1219.1,1044.3 L1216.1,1073.3 L1196.1,1080.3"/>
<ellipse class="l" style="fill:none" cx="1192.1" cy="1008.2" rx="6" ry="4" transform="rotate(0 1192.1 1008.2)"/>
<polyline class="d" points="1206.9,1081.7 1206.9,1166.8"/>
<polyline class="d" points="1066.8,1252 1206.9,1175.2"/>
<polyline class="d" points="1067.3,1255 1207.4,1178.2"/>
<path class="d" d="M1206.9,1096.7 C1208,1110 1212,1118 1228.6,1128.5 L1242,1133.5 L1242,1140.1 L1220.3,1153.5 C1215,1158 1216,1162 1213.6,1166.8 L1196.1,1173.5"/>
<ellipse class="l" style="fill:none" cx="1234.5" cy="1135.1" rx="4" ry="2.8" transform="rotate(0 1234.5 1135.1)"/>
<polyline class="d" points="1045.1,1181.9 1050.1,1180.2 1071.8,1260.3 1083.4,1285.3"/>
<polyline class="d" points="1047.5,1190 1066,1262 1078,1287"/>
<polyline class="d" points="1045.1,1181.9 1045.1,1260.3"/>
<path class="d" d="M1006.7,1272 L999.5,1274 C997,1280 1000,1286 1010.2,1288.6 L1058.3,1299.3 L1101,1283 L1100.1,1277 L1093.5,1268.6 L1046.7,1263.6 L1021.7,1275.3"/>
<polyline class="d" points="1003,1283 1055,1294 1098,1279"/>
<path class="d" d="M1090.1,1262 C1092,1248 1100,1235 1125.2,1220.2 L1206.9,1178.5"/>
<ellipse class="l" style="fill:none" cx="1010.2" cy="1277.9" rx="3.2" ry="2.4" transform="rotate(0 1010.2 1277.9)"/>
<ellipse class="l" style="fill:none" cx="1052.9" cy="1281.9" rx="3.2" ry="2.4" transform="rotate(0 1052.9 1281.9)"/>
<ellipse class="l" style="fill:none" cx="1066.3" cy="1291.3" rx="3.2" ry="2.4" transform="rotate(0 1066.3 1291.3)"/>
<ellipse class="l" style="fill:none" cx="1079.6" cy="1264.6" rx="3.2" ry="2.4" transform="rotate(0 1079.6 1264.6)"/>
<ellipse class="l" style="fill:none" cx="1093" cy="1273.9" rx="3.2" ry="2.4" transform="rotate(0 1093 1273.9)"/>
<path class="d" d="M896.7,1160 L866.7,1175.2 L866.7,1183.6 L880,1195.3 L881.7,1215.3 L895.1,1222 L921.8,1207"/>
<path class="d" d="M869,1178 L869,1186 L882,1198"/>
<ellipse class="l" style="fill:none" cx="871.7" cy="1177.7" rx="3.4" ry="2.5" transform="rotate(0 871.7 1177.7)"/>
<ellipse class="l" style="fill:none" cx="887.5" cy="1186.1" rx="3.4" ry="2.5" transform="rotate(0 887.5 1186.1)"/>
<ellipse class="l" style="fill:none" cx="894.2" cy="1208.6" rx="3.4" ry="2.5" transform="rotate(0 894.2 1208.6)"/>
<ellipse class="l" style="fill:none" cx="1137.7" cy="1098.4" rx="1.5" ry="1.2" transform="rotate(0 1137.7 1098.4)"/>
<ellipse class="l" style="fill:none" cx="1161" cy="1113.4" rx="1.5" ry="1.2" transform="rotate(0 1161 1113.4)"/>
<ellipse class="l" style="fill:none" cx="1161" cy="1123.4" rx="1.5" ry="1.2" transform="rotate(0 1161 1123.4)"/>
<ellipse class="l" style="fill:none" cx="1090.1" cy="1131.5" rx="1.5" ry="1.2" transform="rotate(0 1090.1 1131.5)"/>
<ellipse class="l" style="fill:none" cx="1086.8" cy="1141.5" rx="1.5" ry="1.2" transform="rotate(0 1086.8 1141.5)"/>
<ellipse class="l" style="fill:none" cx="1192.8" cy="1095.1" rx="1.5" ry="1.2" transform="rotate(0 1192.8 1095.1)"/>
<ellipse class="l" style="fill:none" cx="1192.8" cy="1104.8" rx="1.5" ry="1.2" transform="rotate(0 1192.8 1104.8)"/>
<path class="d" d="M1128,1062 C1132,1056 1138,1056 1139,1062 L1138,1078 C1136,1084 1130,1085 1127,1079 Z"/>
<polygon class="p" fill="#fff" points="1141.9,1164 1146,1160.2 1151,1168 1147,1172"/>
<polygon class="p" fill="#fff" points="1150,1160 1154,1157 1158,1165 1154,1169"/>
<polygon class="p" fill="#fff" points="1083,960 1094.5,965 1094.5,974.5 1083,969.5" style="stroke-width:0.9"/>
<path class="l" d="M1085,963 l3,1.5 m-3,2.5 l3,1.5 m2,-3 l3,1.5 m-3,2 l3,1.5" style="stroke-width:0.8"/>
<path class="d" d="M1064.5,996.1 C1050,1010 1041,1018 1042,1028 C1043,1036 1050,1042 1050.1,1048 C1050,1058 1040,1068 1035.6,1072.2 L1019.6,1085"/>
<path class="d" d="M1066.1,1014.5 C1058,1020 1052,1028 1052.5,1036.1 C1054,1044 1060,1050 1060.5,1058 C1058,1068 1048,1076 1046.1,1080.2 C1045,1085 1048,1092 1052.5,1094.6"/>
<path class="l" d="M1064,1024 C1058,1024 1056,1030 1058,1034 C1060,1036 1064,1035 1066,1033" style="stroke-width:0.9"/>
<polyline class="d" points="1063.7,1040.1 1070.9,1053"/>
<polyline class="d" points="1069.3,1065.8 1042,1088.2"/>
<polyline class="d" points="1100.5,980 1098.1,1030.5"/>
<path class="l" d="M158.0,1202.0 C160.7,1202.5 163.7,1207.3 174.0,1205.0 C184.3,1202.7 199.0,1200.3 220.0,1188.0 C241.0,1175.7 273.3,1150.2 300.0,1131.0 C326.7,1111.8 351.7,1091.7 380.0,1073.0 C408.3,1054.3 439.8,1036.1 470.0,1019.0 C500.2,1001.9 545.8,978.7 561.0,970.6"/>
<polyline class="l" points="561,970.6 572.7,960 578.6,959.4 581.3,961"/>
<polyline class="l" points="562.6,970.1 582.3,961"/>
<path class="l" d="M176.0,1210.0 C183.7,1207.3 201.3,1206.0 222.0,1194.0 C242.7,1182.0 273.7,1157.5 300.0,1138.0 C326.3,1118.5 351.7,1096.0 380.0,1077.0 C408.3,1058.0 435.2,1043.2 470.0,1024.0 C504.8,1004.9 568.9,972.4 588.7,962.1"/>
<path class="l" d="M582.9,960.5 L589.3,960.5 L590.9,962.1 C595,964 598,969 598.4,974.9 C598.5,979 597,982 595.7,983.5 C594,987 592,989 590.3,990.4 L585,994.1"/>
<path class="l" d="M227.8,1219.7 C239.8,1211.8 274.6,1189.0 300.0,1172.0 C325.4,1155.0 352.7,1136.0 380.0,1118.0 C407.3,1100.0 434.7,1082.0 464.0,1064.0 C493.3,1046.0 535.4,1021.6 555.6,1010.0 C575.8,998.4 580.1,996.8 585.0,994.1"/>
<ellipse class="p" style="fill:#fff" cx="585.1" cy="979.6" rx="4.8" ry="6.4" transform="rotate(20 585.1 979.6)"/>
<path class="l" d="M146.1,1214.4 C146,1208 148,1204 149.8,1203.7 C152,1201 155,1200 158.4,1200.5 L164.8,1203.7"/>
<path class="l" d="M146.1,1214.4 C147,1222 150,1226 155,1229"/>
<path class="l" d="M155.2,1209 C153,1213 153,1218 154.1,1220.8 C155,1225 157,1228 159.4,1230.4"/>
<path class="l" d="M159.4,1208 C158,1212 157.5,1217 158.4,1220.8 C159,1226 161,1230 164.8,1232.5 L203.2,1226.1 L227.8,1219.7"/>
<ellipse class="l" style="fill:none" cx="169.6" cy="1219.7" rx="4.3" ry="5.9" transform="rotate(20 169.6 1219.7)"/>
<polyline class="l" points="172,1222 182,1227"/>
<polygon class="p" fill="#fff" points="348.5,1098 355,1095.9 356.8,1110 350,1112.6"/>
<polygon class="p" fill="#fff" points="442,1041 449,1040 450.3,1052 443,1053.4"/>
<ellipse class="l" style="fill:none" cx="345.1" cy="1121.8" rx="3.6" ry="5.4" transform="rotate(20 345.1 1121.8)"/>
<polyline class="d" points="420,1135.5 458.7,1116.8"/>
<polyline class="d" points="420,1148.9 466.7,1127.5"/>
<polyline class="l" points="492.1,1126.2 532.1,1103.5"/>
<polyline class="l" points="477,1103 520,1080"/>
<path class="d" d="M472.1,1086.1 C473.4,1078.1 478.7,1075.4 489.4,1076.8"/>
<path class="l" d="M480.1,1074.1 C486.8,1072.8 492.1,1075.4 494.8,1080.8"/>
<polyline class="l" points="483,1073 481,1082" style="stroke-width:0.7"/>
<polyline class="l" points="485.5,1073.8 483.5,1082.8" style="stroke-width:0.7"/>
<polyline class="l" points="488,1074.6 486,1083.6" style="stroke-width:0.7"/>
<polyline class="l" points="490.5,1075.4 488.5,1084.4" style="stroke-width:0.7"/>
<polygon class="p" fill="#fff" points="448.4,1126.6 448.4,1123.8 448.8,1121.1 449.4,1118.3 450.2,1115.5 451.3,1112.9 452.7,1110.4 454.2,1108 455.9,1105.9 457.8,1104 459.8,1102.5 461.9,1101.2 464,1100.3 476.7,1095 478.8,1094.4 480.9,1094.2 483,1094.3 484.9,1094.8 486.8,1095.7 488.4,1096.9 489.9,1098.4 491.1,1100.2 492.2,1102.3 492.9,1104.6 493.5,1107.1 493.7,1109.7 493.6,1112.5 493.3,1115.2 492.7,1118 491.9,1120.8 490.8,1123.4 489.4,1125.9 487.9,1128.3 486.2,1130.4 484.3,1132.3 482.3,1133.8 480.2,1135.1 478.1,1136 465.4,1141.3 463.3,1141.9 461.2,1142.1 459.1,1142 457.2,1141.5 455.4,1140.6 453.7,1139.4 452.2,1137.9 450.9,1136.1 449.9,1134 449.1,1131.7 448.6,1129.2"/>
<path class="l" d="M477.4,1093.5 C488,1095 494,1108 492,1122 C490,1132 484,1138 477,1137"/>
<ellipse class="p" style="fill:#fff" cx="464.7" cy="1120.8" rx="15.4" ry="22" transform="rotate(20 464.7 1120.8)"/>
<ellipse class="l" style="fill:none;stroke-width:0.8" cx="476.3" cy="1125" rx="1.2" ry="1.6" transform="rotate(0 476.3 1125)"/>
<ellipse class="l" style="fill:none;stroke-width:0.8" cx="471.6" cy="1133" rx="1.2" ry="1.6" transform="rotate(0 471.6 1133)"/>
<ellipse class="l" style="fill:none;stroke-width:0.8" cx="465.1" cy="1137.7" rx="1.2" ry="1.6" transform="rotate(0 465.1 1137.7)"/>
<ellipse class="l" style="fill:none;stroke-width:0.8" cx="458.5" cy="1137.9" rx="1.2" ry="1.6" transform="rotate(0 458.5 1137.9)"/>
<ellipse class="l" style="fill:none;stroke-width:0.8" cx="453.5" cy="1133.5" rx="1.2" ry="1.6" transform="rotate(0 453.5 1133.5)"/>
<ellipse class="l" style="fill:none;stroke-width:0.8" cx="451.6" cy="1125.7" rx="1.2" ry="1.6" transform="rotate(0 451.6 1125.7)"/>
<ellipse class="l" style="fill:none;stroke-width:0.8" cx="453.1" cy="1116.6" rx="1.2" ry="1.6" transform="rotate(0 453.1 1116.6)"/>
<ellipse class="l" style="fill:none;stroke-width:0.8" cx="457.8" cy="1108.6" rx="1.2" ry="1.6" transform="rotate(0 457.8 1108.6)"/>
<ellipse class="l" style="fill:none;stroke-width:0.8" cx="464.3" cy="1103.9" rx="1.2" ry="1.6" transform="rotate(0 464.3 1103.9)"/>
<ellipse class="l" style="fill:none;stroke-width:0.8" cx="470.9" cy="1103.7" rx="1.2" ry="1.6" transform="rotate(0 470.9 1103.7)"/>
<ellipse class="l" style="fill:none;stroke-width:0.8" cx="475.9" cy="1108.1" rx="1.2" ry="1.6" transform="rotate(0 475.9 1108.1)"/>
<ellipse class="l" style="fill:none;stroke-width:0.8" cx="477.8" cy="1115.9" rx="1.2" ry="1.6" transform="rotate(0 477.8 1115.9)"/>
<path class="p" d="M458.7,1116.8 L460.1,1111.5 C462,1109 466,1109 468.1,1110.1 C471,1113 472.5,1117 472.1,1121 L466.7,1127.5"/>
<path class="l" d="M465.4,1036.7 L586.9,1106.1 L564.2,1120.8 L453.4,1056.7 C449,1050 452,1040 465.4,1036.7 Z" style="stroke-width:0;fill:#fff"/>
<path class="l" d="M465.4,1036.7 L586.9,1106.1"/>
<path class="l" d="M564.2,1120.8 L453.4,1056.7 C449,1050 452,1040 465.4,1036.7"/>
<polyline class="d" points="521.5,1066.1 546.8,1051.4"/>
<path class="l" d="M561.5,1047.4 C572.2,1054.1 576.9,1066.1 576.2,1079.4 L560.2,1087.4"/>
<polyline class="d" points="536,1097 560.2,1087.4"/>
<polyline class="d" points="556.2,1035.4 565.5,1028.7 569.5,1031.4 569.5,1047.4"/>
<ellipse class="p" style="fill:#fff" cx="592.2" cy="1050" rx="17.4" ry="22" transform="rotate(20 592.2 1050)"/>
<ellipse class="p" style="fill:#fff" cx="592.2" cy="1053.4" rx="8" ry="10" transform="rotate(20 592.2 1053.4)"/>
<ellipse class="p" style="fill:#fff" cx="593" cy="1054" rx="6.5" ry="8.5" transform="rotate(20 593 1054)"/>
<ellipse class="l" style="fill:none" cx="580.9" cy="1038" rx="1.4" ry="1" transform="rotate(20 580.9 1038)"/>
<polygon class="p" fill="#fff" points="536,1045.1 536,1044.3 536.1,1043.5 536.3,1042.7 536.6,1041.9 536.9,1041.1 537.3,1040.3 537.7,1039.6 538.2,1039 538.8,1038.5 539.4,1038 540,1037.6 540.6,1037.3 541.2,1037.2 553.9,1033.8 554.5,1033.7 555.1,1033.7 555.7,1033.9 556.3,1034.2 556.7,1034.5 557.2,1035 557.5,1035.5 557.8,1036.1 558.1,1036.8 558.2,1037.5 558.3,1038.3 558.3,1039.1 558.2,1039.9 558,1040.7 557.7,1041.5 557.4,1042.3 557,1043.1 556.6,1043.8 556,1044.4 555.5,1044.9 554.9,1045.4 554.3,1045.8 553.7,1046.1 553.1,1046.2 540.4,1049.6 539.8,1049.7 539.1,1049.7 538.6,1049.5 538,1049.2 537.6,1048.9 537.1,1048.5 536.8,1047.9 536.5,1047.3 536.2,1046.6 536.1,1045.9"/>
<ellipse class="p" style="fill:#fff" cx="553.5" cy="1040" rx="4.5" ry="6.5" transform="rotate(20 553.5 1040)"/>
<polyline class="l" points="544,1036 542,1048" style="stroke-width:0.7"/>
<polyline class="l" points="546.5,1035.2 544.5,1047.2" style="stroke-width:0.7"/>
<polyline class="l" points="549,1034.4 547,1046.4" style="stroke-width:0.7"/>
<polyline class="l" points="551.5,1033.6 549.5,1045.6" style="stroke-width:0.7"/>
<path class="l" d="M319.4,1125.3 L355.5,1148"/>
<path class="l" d="M319.4,1125.3 C305,1124 296,1137 294.5,1150 C294,1162 300,1172 312,1176 L330,1178"/>
<path class="l" d="M228.1,1193.2 L268.2,1218.2"/>
<path class="l" d="M228.1,1193.2 C222,1195 219,1205 221,1215 C222,1220 225,1221 226.1,1220.2 L294,1253.5"/>
<polyline class="l" points="316.8,1238.8 346.1,1258.9"/>
<polyline class="l" points="250,1204.1 258,1208.1 310.1,1176.1"/>
<polygon class="p" fill="#fff" points="263.4,1226.8 267.4,1213.5 278,1207.4 281.6,1208.1 324.1,1170.7 327.4,1168.1 380.2,1135.4 380.8,1132 388.9,1128 394.2,1130 408.9,1144.7 384.8,1160.1 351.5,1182.8 332.8,1200.1 294.1,1226.8 290.1,1226.8 282,1224.1 274,1226.8 270,1238.8 264.7,1238.8 263.4,1234.8"/>
<polyline class="l" points="281.6,1208.1 286,1212.1 294.1,1206.8 327.4,1172.1 383.5,1138.7"/>
<ellipse class="l" style="fill:none" cx="330.8" cy="1182.1" rx="3.5" ry="5.2" transform="rotate(20 330.8 1182.1)"/>
<ellipse class="l" style="fill:none" cx="340.1" cy="1172.7" rx="0.9" ry="0.9" transform="rotate(0 340.1 1172.7)"/>
<polyline class="l" points="343.5,1182.8 349.5,1166.7"/>
<ellipse class="p" style="fill:#fff" cx="400" cy="1151" rx="7" ry="8" transform="rotate(20 400 1151)"/>
<ellipse class="p" style="fill:#fff" cx="401" cy="1150" rx="3" ry="6.5" transform="rotate(40 401 1150)"/>
<polygon class="p" fill="#fff" points="288.1,1250.2 287.4,1236.2 294.1,1228.1 304.7,1223.5 310.1,1221.5 404.9,1145.4 410.2,1142.7 417.6,1143.4 432.2,1158.3 432.2,1163.4 424.9,1180.1 420.9,1182.8 376.8,1215.5 356.8,1215.5 317.4,1240.2 303.4,1240.2 296.1,1248.2 294.1,1253.5 288.7,1253.5"/>
<polyline class="l" points="310.1,1221.5 314.1,1225.5 410.2,1152"/>
<polyline class="l" points="304.7,1223.5 308.7,1226.8"/>
<ellipse class="l" style="fill:none" cx="356.8" cy="1196.1" rx="3.8" ry="5.2" transform="rotate(20 356.8 1196.1)"/>
<ellipse class="l" style="fill:none" cx="364.8" cy="1186.8" rx="0.9" ry="0.9" transform="rotate(0 364.8 1186.8)"/>
<ellipse class="l" style="fill:none" cx="423.6" cy="1167.4" rx="4.5" ry="6" transform="rotate(20 423.6 1167.4)"/>
<ellipse class="p" style="fill:#000" cx="411.5" cy="1166.7" rx="0.9" ry="0.9" transform="rotate(0 411.5 1166.7)"/>
<polyline class="l" points="317.4,1240.2 356.8,1214.1 376.8,1215.5"/>
<path class="l" d="M399.5,1172 L450,1200.1"/>
<path class="l" d="M450,1200.1 L399.5,1172 C385,1171 376,1184 374.2,1198 C374,1210 380,1220 396,1226 L425,1240 L460,1222 Z" style="stroke-width:0;fill:#fff"/>
<path class="l" d="M399.5,1172 C385,1171 376,1184 374.2,1198 C374,1210 380,1218 386,1222"/>
<polyline class="l" points="399.5,1172 450,1200.1"/>
<polyline class="d" points="379.5,1210.8 410.2,1229.5"/>
<path class="l" d="M304.0,1283.4 C312.8,1280.2 338.7,1273.3 356.9,1264.2 C375.1,1255.1 385.8,1248.1 413.0,1228.9 C440.2,1209.7 485.5,1172.0 520.0,1148.8 C554.5,1125.6 588.3,1107.6 620.0,1090.0 C651.7,1072.4 695.0,1050.8 710.0,1043.0"/>
<path class="l" d="M310.4,1285.8 C318.7,1282.7 342.6,1276.4 360.1,1267.4 C377.6,1258.5 388.8,1251.1 415.4,1232.1 C442.0,1213.1 485.9,1176.1 520.0,1153.6 C554.1,1131.1 585.5,1115.7 620.0,1097.0 C654.5,1078.3 709.2,1050.7 727.0,1041.4"/>
<path class="l" d="M323.3,1305.8 C329.4,1304.7 346.0,1303.7 360.1,1299.4 C374.2,1295.1 392.2,1288.7 408.2,1280.2 C424.2,1271.7 437.6,1262.1 456.2,1248.2 C474.8,1234.3 492.7,1217.4 520.0,1196.9 C547.3,1176.4 587.2,1145.2 620.0,1125.0 C652.8,1104.8 700.4,1083.8 716.5,1075.5"/>
<ellipse class="l" style="fill:none" cx="473.8" cy="1204.9" rx="4.5" ry="6" transform="rotate(20 473.8 1204.9)"/>
<path class="l" d="M710,1043 L722.7,1038 L727,1040 C731,1041 734,1045 734.7,1050"/>
<path class="l" d="M714.7,1076.7 L706.7,1072 C704,1069 704,1064 708.7,1058.7 L722.1,1046 C725,1044.5 729,1045 733.4,1050 L738.7,1052.7 C741,1055 741,1060 740.1,1062 C739,1068 735,1072 730.7,1074.1 C726,1077 721,1078 718.7,1077.4 C714,1076 713,1072 713.4,1070.7 C713.5,1068 714,1067 714.7,1066.7 L722.7,1058.7 L733.4,1050" style="fill:#fff"/>
<ellipse class="p" style="fill:#fff" cx="730.4" cy="1063.4" rx="4.2" ry="6.2" transform="rotate(30 730.4 1063.4)"/>
<ellipse class="l" style="fill:none" cx="719.4" cy="1069.4" rx="0.9" ry="0.9" transform="rotate(0 719.4 1069.4)"/>
<path class="l" d="M291.7,1302 C292,1295 296,1289.2 303.5,1280.7 L309.9,1283.9"/>
<polygon class="p" fill="#fff" points="290.7,1301.3 290.8,1299.9 290.9,1298.4 291.2,1297 291.7,1295.5 292.2,1294.1 293,1292.8 293.8,1291.5 294.7,1290.3 295.7,1289.3 296.8,1288.4 297.9,1287.6 299,1287 300.2,1286.6 301.3,1286.4 302.4,1286.4 303.5,1286.5 304.4,1286.9 321.2,1293.6 322.1,1294.1 322.9,1294.8 323.6,1295.7 324.2,1296.7 324.6,1297.8 324.9,1299.1 325.1,1300.4 325.1,1301.8 324.9,1303.3 324.6,1304.7 324.1,1306.2 323.6,1307.6 322.8,1308.9 322,1310.2 321.1,1311.4 320.1,1312.4 319,1313.3 317.9,1314.1 316.8,1314.7 315.6,1315.1 314.5,1315.3 313.4,1315.3 312.3,1315.2 311.4,1314.8 294.6,1308.1 293.6,1307.6 292.9,1306.9 292.2,1306 291.6,1305 291.2,1303.8 290.9,1302.6"/>
<ellipse class="p" style="fill:#fff" cx="316.3" cy="1304.2" rx="8" ry="11.7" transform="rotate(25 316.3 1304.2)"/>
<ellipse class="p" style="fill:#fff" cx="316.3" cy="1304.2" rx="4.3" ry="5.9" transform="rotate(25 316.3 1304.2)"/>
<path class="l" d="M296,1288 C290,1298 292,1310 302,1316"/>
<polygon class="p" fill="#fff" points="205,1216 212,1213 219,1222 212,1226"/>
<polygon class="p" fill="#fff" points="211,1215 217,1212 222,1222 216,1226"/>
<ellipse class="p" style="fill:#fff" cx="214" cy="1219.5" rx="2" ry="2.5" transform="rotate(20 214 1219.5)"/>
<polyline class="l" points="197,1219 224,1234"/>
<polygon class="p" fill="#fff" points="1128,872 1124.2,866 1128,859 1141,859 1144.9,866 1141,872"/>
<polygon class="p" fill="#fff" points="1130,853 1130,852.6 1130.2,852.2 1130.3,851.9 1130.6,851.5 1130.9,851.2 1131.3,850.9 1131.8,850.6 1132.2,850.4 1132.8,850.2 1133.3,850.1 1133.9,850 1134.5,850 1135.1,850 1135.7,850.1 1136.2,850.2 1136.8,850.4 1137.2,850.6 1137.7,850.9 1138.1,851.2 1138.4,851.5 1138.7,851.9 1138.8,852.2 1139,852.6 1139,853 1139,860 1139,860.4 1138.8,860.8 1138.7,861.1 1138.4,861.5 1138.1,861.8 1137.7,862.1 1137.2,862.4 1136.8,862.6 1136.2,862.8 1135.7,862.9 1135.1,863 1134.5,863 1133.9,863 1133.3,862.9 1132.8,862.8 1132.2,862.6 1131.8,862.4 1131.3,862.1 1130.9,861.8 1130.6,861.5 1130.3,861.1 1130.2,860.8 1130,860.4 1130,860"/>
<ellipse class="p" style="fill:#fff" cx="1134.5" cy="860" rx="4.5" ry="3" transform="rotate(0 1134.5 860)"/>
<path class="p" d="M1130,857 C1130,850 1139,850 1139,857"/>
<polygon class="p" fill="#fff" points="1129,872 1140,872 1140,888 1129,888"/>
<polyline class="l" points="1129,876 1140,875" style="stroke-width:0.7"/>
<polyline class="l" points="1129,880 1140,879" style="stroke-width:0.7"/>
<polyline class="l" points="1129,884 1140,883" style="stroke-width:0.7"/>
<polyline class="l" points="1134.5,866 1134.5,872" style="stroke-width:0.7"/>
<polygon class="p" fill="#fff" points="1221,974.4 1221.2,971.8 1221.6,969.1 1222.2,966.4 1223,963.8 1224,961.2 1225.2,958.9 1226.5,956.7 1228,954.7 1229.6,953 1231.2,951.6 1232.9,950.4 1234.6,949.6 1236.3,949.2 1238,949.1 1239.6,949.3 1241.5,949.9 1243,950.5 1244.5,951.4 1245.7,952.7 1246.8,954.2 1247.7,956.1 1248.4,958.1 1248.9,960.4 1249.2,962.8 1249.2,965.4 1249.1,968 1248.7,970.7 1248.1,973.4 1247.3,976 1246.3,978.5 1245.1,980.9 1243.8,983.1 1242.3,985.1 1240.7,986.8 1239.1,988.2 1237.4,989.4 1235.7,990.2 1234,990.6 1232.3,990.7 1230.7,990.5 1228.8,989.9 1227.2,989.3 1225.8,988.4 1224.6,987.1 1223.5,985.6 1222.6,983.7 1221.9,981.7 1221.4,979.4 1221.1,977"/>
<ellipse class="p" style="fill:#fff" cx="1236.1" cy="970.2" rx="12.4" ry="21" transform="rotate(15 1236.1 970.2)"/>
<polygon class="p" fill="#fff" points="1228.9,972.8 1229,971.4 1229.2,969.9 1229.5,968.4 1230,967 1230.5,965.6 1231.2,964.3 1231.9,963.1 1232.7,962 1233.6,961.1 1234.5,960.3 1235.4,959.7 1236.3,959.2 1237.3,959 1238.2,958.9 1239.1,959 1253.2,963.5 1254,963.8 1254.8,964.3 1255.5,965 1256.1,965.8 1256.6,966.8 1257,968 1257.2,969.2 1257.4,970.5 1257.4,972 1257.3,973.4 1257.1,974.9 1256.8,976.4 1256.3,977.8 1255.8,979.2 1255.1,980.5 1254.4,981.7 1253.6,982.8 1252.7,983.7 1251.8,984.5 1250.9,985.1 1250,985.6 1249,985.8 1248.1,985.9 1247.2,985.8 1233.1,981.4 1232.3,981 1231.5,980.5 1230.8,979.8 1230.2,979 1229.7,978 1229.3,976.8 1229,975.6 1228.9,974.2"/>
<polygon class="p" fill="#fff" points="1236.2,978.4 1236.2,976 1236.5,973.5 1237,971.1 1237.8,968.7 1238.8,966.5 1239.9,964.3 1241.3,962.4 1242.8,960.6 1244.4,959.1 1246.1,957.9 1247.9,957 1249.7,956.3 1251.5,956 1253.3,956 1255.1,956.2 1257,956.9 1258.7,957.5 1260.2,958.4 1261.7,959.6 1262.9,961.1 1264,962.8 1264.9,964.7 1265.5,966.8 1265.9,969.1 1266.1,971.4 1266.1,973.9 1265.8,976.3 1265.2,978.7 1264.5,981.1 1263.5,983.4 1262.3,985.5 1261,987.4 1259.5,989.2 1257.9,990.7 1256.2,991.9 1254.4,992.9 1252.6,993.5 1250.8,993.8 1248.9,993.9 1247.2,993.5 1245.3,993 1243.6,992.3 1242,991.4 1240.6,990.2 1239.4,988.7 1238.3,987 1237.4,985.1 1236.8,983 1236.4,980.7"/>
<ellipse class="p" style="fill:#fff" cx="1252.1" cy="975.2" rx="13.6" ry="19" transform="rotate(15 1252.1 975.2)"/>
<ellipse class="p" style="fill:#fff" cx="1252.1" cy="975.2" rx="7" ry="10" transform="rotate(15 1252.1 975.2)"/>
<ellipse class="p" style="fill:#fff" cx="1252.9" cy="975.7" rx="5.6" ry="8.5" transform="rotate(15 1252.9 975.7)"/>
<polyline class="c" points="1259,978 1270,984"/>
<polygon class="p" fill="#fff" points="1271.1,994.6 1271.1,993.5 1271.3,992.2 1271.5,990.9 1271.9,989.6 1272.3,988.3 1272.8,987 1273.4,985.8 1274,984.6 1274.7,983.6 1275.5,982.6 1276.2,981.8 1277,981.1 1277.8,980.6 1278.5,980.2 1279.2,980 1280,980 1280.6,980.1 1281.2,980.4 1329.2,1008.4 1329.7,1008.9 1330.1,1009.5 1330.5,1010.3 1330.7,1011.2 1330.9,1012.2 1330.9,1013.4 1330.9,1014.5 1330.7,1015.8 1330.5,1017.1 1330.1,1018.4 1329.7,1019.7 1329.2,1021 1328.6,1022.2 1328,1023.4 1327.3,1024.4 1326.5,1025.4 1325.8,1026.2 1325,1026.9 1324.2,1027.4 1323.5,1027.8 1322.8,1028 1322,1028 1321.4,1027.9 1320.8,1027.6 1272.8,999.6 1272.3,999.1 1271.9,998.5 1271.5,997.7 1271.3,996.8 1271.1,995.8"/>
<path class="p" d="M1315,1002 C1325,999 1338,1003 1339.5,1011 C1341,1025 1336,1040 1328,1046 C1320,1046 1316,1036 1315,1020 Z"/>
<ellipse class="p" style="fill:#fff" cx="1328.5" cy="1018.3" rx="7" ry="9.5" transform="rotate(20 1328.5 1018.3)"/>
<ellipse class="p" style="fill:#fff" cx="1329.2" cy="1018.3" rx="5.5" ry="8" transform="rotate(20 1329.2 1018.3)"/>
<ellipse class="p" style="fill:#fff" cx="1329.2" cy="1039.3" rx="2.3" ry="3" transform="rotate(20 1329.2 1039.3)"/>
<polyline class="c" points="1333,1040 1342,1045"/>
<polygon class="p" fill="#fff" points="1339,1048.1 1339,1047.4 1339.1,1046.6 1339.3,1045.9 1339.5,1045.1 1339.8,1044.4 1340.2,1043.7 1340.6,1043.1 1341.1,1042.5 1341.6,1042 1342.1,1041.5 1342.6,1041.2 1343.2,1040.9 1343.8,1040.8 1344.3,1040.7 1344.8,1040.7 1345.3,1040.9 1345.8,1041.1 1353,1044.6 1353.5,1044.9 1353.8,1045.3 1354.2,1045.8 1354.4,1046.4 1354.6,1047 1354.7,1047.7 1354.8,1048.4 1354.8,1049.1 1354.7,1049.9 1354.5,1050.6 1354.3,1051.4 1354,1052.1 1353.6,1052.8 1353.2,1053.4 1352.7,1054 1352.2,1054.5 1351.7,1055 1351.2,1055.3 1350.6,1055.6 1350,1055.7 1349.5,1055.8 1349,1055.8 1348.5,1055.6 1348,1055.4 1340.8,1051.9 1340.3,1051.6 1340,1051.2 1339.6,1050.7 1339.4,1050.1 1339.2,1049.5 1339.1,1048.8"/>
<ellipse class="p" style="fill:#fff" cx="1350.5" cy="1050" rx="4" ry="6" transform="rotate(20 1350.5 1050)"/>
<ellipse class="p" style="fill:#fff" cx="1350.5" cy="1050" rx="2" ry="3.3" transform="rotate(20 1350.5 1050)"/>
<ellipse class="p" style="fill:#fff" cx="1360.3" cy="1057.3" rx="6.5" ry="9" transform="rotate(20 1360.3 1057.3)"/>
<ellipse class="p" style="fill:#fff" cx="1360.3" cy="1057.3" rx="2.5" ry="3" transform="rotate(20 1360.3 1057.3)"/>
<polygon class="p" fill="#fff" points="1364,1061.5 1364,1060.9 1364,1060.3 1364.2,1059.8 1364.3,1059.2 1364.6,1058.7 1364.8,1058.2 1365.2,1057.7 1365.5,1057.2 1365.9,1056.9 1366.3,1056.5 1366.7,1056.3 1367.2,1056.1 1367.6,1056 1368,1055.9 1368.4,1056 1368.8,1056.1 1369.2,1056.2 1391.9,1070 1392.2,1070.2 1392.5,1070.5 1392.8,1070.9 1393,1071.3 1393.2,1071.8 1393.3,1072.3 1393.3,1072.8 1393.3,1073.4 1393.3,1074 1393.1,1074.5 1393,1075.1 1392.7,1075.6 1392.5,1076.1 1392.2,1076.6 1391.8,1077 1391.4,1077.4 1391,1077.8 1390.6,1078 1390.2,1078.2 1389.7,1078.3 1389.3,1078.4 1388.9,1078.3 1388.5,1078.2 1388.1,1078 1365.4,1064.3 1365,1064.1 1364.8,1063.8 1364.5,1063.4 1364.3,1063 1364.1,1062.5 1364,1062"/>
<ellipse class="p" style="fill:#fff" cx="1390" cy="1074" rx="3.1" ry="4.5" transform="rotate(20 1390 1074)"/>
<path class="l" d="M1374.2,1059.1 Q1369.7,1062.3 1371.1,1067.6" style="stroke-width:0.7"/>
<path class="l" d="M1378.8,1061.9 Q1374.3,1065.0 1375.7,1070.3" style="stroke-width:0.7"/>
<path class="l" d="M1383.3,1064.6 Q1378.8,1067.8 1380.2,1073.1" style="stroke-width:0.7"/>
<path class="l" d="M1387.8,1067.3 Q1383.3,1070.5 1384.8,1075.8" style="stroke-width:0.7"/>
<polygon class="p" fill="#fff" points="1385.6,1078.2 1389,1068.8 1396.6,1066.3 1403.4,1070.4 1407.6,1077.2 1404.2,1086.6 1396.6,1089.2 1389.7,1085.1"/>
<polygon class="p" fill="#fff" points="1404.1,1086.6 1396.6,1089.2 1392.4,1082.4 1395.9,1073 1403.4,1070.4 1407.6,1077.2"/>
<polyline class="l" points="1396.6,1089.2 1389.7,1085.1"/>
<polyline class="l" points="1392.4,1082.4 1385.6,1078.2"/>
<polyline class="l" points="1395.9,1073 1389,1068.8"/>
<polyline class="l" points="1403.4,1070.4 1396.6,1066.3"/>
<polygon class="p" fill="#fff" points="1315.7,1096.2 1315.7,1094.3 1315.9,1092.4 1316.3,1090.5 1316.9,1088.6 1317.6,1086.8 1318.5,1085.1 1319.6,1083.5 1320.8,1082.1 1322.1,1080.8 1323.5,1079.8 1325,1078.9 1326.5,1078.3 1328,1077.9 1329.5,1077.8 1330.9,1077.9 1332.3,1078.3 1352.1,1086.9 1353.4,1087.5 1354.6,1088.4 1355.7,1089.4 1356.6,1090.7 1357.4,1092.1 1357.9,1093.7 1358.3,1095.4 1358.5,1097.2 1358.5,1099.1 1358.3,1101 1357.9,1102.9 1357.3,1104.8 1356.6,1106.6 1355.7,1108.3 1354.6,1109.9 1353.4,1111.3 1352.1,1112.6 1350.7,1113.6 1349.2,1114.5 1347.7,1115.1 1346.2,1115.5 1344.7,1115.6 1343.3,1115.5 1341.9,1115.1 1322.1,1106.5 1320.8,1105.9 1319.6,1105 1318.5,1104 1317.6,1102.7 1316.8,1101.3 1316.3,1099.7 1315.9,1098"/>
<polygon class="p" fill="#fff" points="1332.2,1102.8 1332.4,1100.5 1332.8,1098.3 1333.5,1096.1 1334.4,1094 1335.5,1092 1336.8,1090.1 1338.3,1088.5 1339.9,1087 1341.7,1085.8 1343.5,1084.9 1345.5,1084.2 1347.4,1083.8 1349.3,1083.8 1351.2,1084 1353,1084.5 1354.7,1085.2 1361,1088.7 1362.6,1089.7 1364,1091 1365.3,1092.5 1366.3,1094.3 1367.1,1096.2 1367.7,1098.2 1368,1100.4 1368.1,1102.6 1367.9,1104.9 1367.5,1107.1 1366.8,1109.3 1365.9,1111.4 1364.8,1113.4 1363.5,1115.3 1362,1116.9 1360.4,1118.4 1358.6,1119.6 1356.8,1120.5 1354.8,1121.2 1352.9,1121.6 1351,1121.7 1349.1,1121.4 1347.3,1120.9 1345.6,1120.2 1339.3,1116.8 1337.7,1115.7 1336.3,1114.4 1335,1112.9 1334,1111.1 1333.2,1109.2 1332.6,1107.2 1332.3,1105"/>
<ellipse class="p" style="fill:#fff" cx="1353.3" cy="1104.4" rx="14.4" ry="17.6" transform="rotate(20 1353.3 1104.4)"/>
<ellipse class="p" style="fill:#fff" cx="1353.3" cy="1104.4" rx="10" ry="13" transform="rotate(20 1353.3 1104.4)"/>
<polyline class="c" points="1130,1290 1142,1297"/>
<polygon class="p" fill="#fff" points="1142.1,1306.3 1142.2,1305.2 1142.4,1304.2 1142.6,1303.1 1143,1302 1143.5,1300.9 1144,1299.8 1144.6,1298.8 1145.3,1297.9 1146,1297.1 1146.7,1296.4 1147.5,1295.7 1148.3,1295.2 1149,1294.9 1149.8,1294.7 1150.5,1294.6 1151.2,1294.6 1151.8,1294.8 1245.8,1346.8 1246.4,1347.2 1246.8,1347.7 1247.2,1348.3 1247.6,1349 1247.8,1349.8 1247.9,1350.7 1247.9,1351.7 1247.8,1352.8 1247.6,1353.8 1247.4,1354.9 1247,1356 1246.5,1357.1 1246,1358.2 1245.4,1359.2 1244.7,1360.1 1244,1360.9 1243.3,1361.6 1242.5,1362.3 1241.7,1362.8 1241,1363.1 1240.2,1363.3 1239.5,1363.4 1238.8,1363.4 1238.2,1363.2 1144.2,1311.2 1143.6,1310.8 1143.2,1310.3 1142.8,1309.7 1142.4,1309 1142.2,1308.2 1142.1,1307.3"/>
<ellipse class="p" style="fill:#fff" cx="1242" cy="1355" rx="5" ry="9" transform="rotate(25 1242 1355)"/>
<path class="l" d="M1243.3,1346.3 C1247,1350 1247,1356 1244,1360 C1248,1364 1246,1368 1239.5,1369.1"/>
<polygon class="p" fill="#fff" points="1240.1,1363.3 1240.2,1362.2 1240.4,1361.2 1240.6,1360.1 1241,1359 1241.5,1357.9 1242,1356.8 1242.6,1355.8 1243.3,1354.9 1244,1354.1 1244.7,1353.4 1245.5,1352.7 1246.3,1352.2 1247,1351.9 1247.8,1351.7 1248.5,1351.6 1249.2,1351.6 1249.8,1351.8 1319.8,1391.8 1320.4,1392.2 1320.8,1392.7 1321.2,1393.3 1321.6,1394 1321.8,1394.8 1321.9,1395.7 1321.9,1396.7 1321.8,1397.8 1321.6,1398.8 1321.4,1399.9 1321,1401 1320.5,1402.1 1320,1403.2 1319.4,1404.2 1318.7,1405.1 1318,1405.9 1317.3,1406.6 1316.5,1407.3 1315.7,1407.8 1315,1408.1 1314.2,1408.3 1313.5,1408.4 1312.8,1408.4 1312.2,1408.2 1242.2,1368.2 1241.6,1367.8 1241.2,1367.3 1240.8,1366.7 1240.4,1366 1240.2,1365.2 1240.1,1364.3"/>
<path class="l" d="M1197,1321 C1203,1325 1206,1333 1205,1340"/>
<path class="l" d="M1266,1363 C1272,1367 1274,1374 1273,1382"/>
<polyline class="l" points="1150,1296 1243.3,1346.3" style="stroke-width:1.6"/>
<polyline class="l" points="1246,1352.6 1323.2,1393.2" style="stroke-width:1.6"/>
<polygon class="p" fill="#fff" points="1303,1414 1306,1419 1313,1424 1325,1420 1337,1411 1340,1402 1334,1393 1322,1393 1310,1404"/>
<ellipse class="p" style="fill:#fff" cx="1329.6" cy="1405.5" rx="6.5" ry="7.5" transform="rotate(20 1329.6 1405.5)"/>
<ellipse class="p" style="fill:#fff" cx="1329.6" cy="1405.5" rx="4.5" ry="5.5" transform="rotate(20 1329.6 1405.5)"/>
<ellipse class="p" style="fill:#fff" cx="1309.3" cy="1417.8" rx="2.2" ry="2.8" transform="rotate(20 1309.3 1417.8)"/>
<polyline class="c" points="1312,1420 1348,1440"/>
<polygon class="p" fill="#fff" points="1345.7,1444 1345.8,1443 1346,1442 1346.3,1441.1 1346.7,1440.2 1347.2,1439.4 1347.7,1438.6 1348.3,1437.8 1349,1437.2 1349.7,1436.7 1350.4,1436.3 1351.1,1436 1351.9,1435.8 1352.6,1435.7 1353.4,1435.8 1354.1,1436 1365.6,1440 1366.2,1440.3 1366.8,1440.7 1367.3,1441.2 1367.8,1441.8 1368.2,1442.5 1368.5,1443.3 1368.7,1444.2 1368.8,1445.1 1368.8,1446 1368.7,1447 1368.5,1448 1368.2,1448.9 1367.8,1449.8 1367.3,1450.6 1366.8,1451.4 1366.2,1452.2 1365.5,1452.8 1364.8,1453.3 1364.1,1453.7 1363.4,1454 1362.6,1454.2 1361.9,1454.3 1361.1,1454.2 1360.4,1454 1348.9,1450 1348.3,1449.7 1347.7,1449.3 1347.2,1448.8 1346.7,1448.2 1346.3,1447.5 1346,1446.7 1345.8,1445.8 1345.7,1444.9"/>
<ellipse class="p" style="fill:#fff" cx="1363" cy="1447" rx="5.5" ry="7.5" transform="rotate(20 1363 1447)"/>
<ellipse class="p" style="fill:#fff" cx="1363" cy="1447" rx="2.8" ry="4.1" transform="rotate(20 1363 1447)"/>
<polygon class="p" fill="#fff" points="1367.6,1461.6 1367.8,1460 1368.1,1458.4 1368.6,1456.8 1369.2,1455.3 1370,1453.9 1370.9,1452.6 1371.9,1451.4 1373,1450.4 1374.2,1449.5 1375.7,1448.5 1377,1447.8 1378.2,1447.3 1379.5,1447 1380.8,1446.9 1382.1,1447 1383.3,1447.3 1384.4,1447.9 1385.4,1448.6 1386.4,1449.5 1387.2,1450.5 1387.8,1451.8 1388.3,1453.1 1388.7,1454.5 1388.9,1456 1388.9,1457.6 1388.7,1459.2 1388.4,1460.8 1387.9,1462.3 1387.3,1463.8 1386.5,1465.3 1385.6,1466.6 1384.6,1467.8 1383.5,1468.8 1382.3,1469.7 1380.8,1470.7 1379.5,1471.4 1378.3,1471.9 1377,1472.2 1375.7,1472.3 1374.4,1472.2 1373.2,1471.8 1372.1,1471.3 1371.1,1470.6 1370.1,1469.7 1369.3,1468.7 1368.7,1467.4 1368.2,1466.1 1367.8,1464.7 1367.6,1463.2"/>
<ellipse class="p" style="fill:#fff" cx="1379" cy="1459.1" rx="9.5" ry="12.5" transform="rotate(20 1379 1459.1)"/>
<ellipse class="p" style="fill:#fff" cx="1379" cy="1459.1" rx="4" ry="5.3" transform="rotate(20 1379 1459.1)"/>
<polygon class="p" fill="#fff" points="1387.6,1472 1387.6,1471.4 1387.7,1470.7 1387.9,1470 1388.1,1469.3 1388.4,1468.6 1388.7,1468 1389.1,1467.4 1389.5,1466.9 1390,1466.4 1390.5,1466 1391,1465.7 1391.5,1465.5 1392,1465.3 1392.6,1465.3 1393.1,1465.3 1393.6,1465.4 1421.9,1478.8 1422.3,1479 1422.8,1479.3 1423.1,1479.7 1423.4,1480.2 1423.7,1480.7 1423.9,1481.3 1424,1481.9 1424.1,1482.6 1424.1,1483.2 1424,1483.9 1423.8,1484.6 1423.6,1485.3 1423.3,1486 1423,1486.6 1422.6,1487.2 1422.2,1487.7 1421.7,1488.2 1421.2,1488.6 1420.7,1488.9 1420.2,1489.1 1419.7,1489.3 1419.1,1489.3 1418.6,1489.3 1418.1,1489.2 1389.8,1475.8 1389.4,1475.5 1389,1475.2 1388.6,1474.9 1388.3,1474.4 1388,1473.9 1387.8,1473.3 1387.7,1472.7"/>
<ellipse class="p" style="fill:#fff" cx="1420" cy="1484" rx="3.8" ry="5.5" transform="rotate(20 1420 1484)"/>
<path class="l" d="M1400.3,1468.5 Q1394.8,1472.3 1396.5,1478.8" style="stroke-width:0.7"/>
<path class="l" d="M1405.9,1471.2 Q1400.4,1475.0 1402.2,1481.5" style="stroke-width:0.7"/>
<path class="l" d="M1411.6,1473.8 Q1406.1,1477.7 1407.8,1484.2" style="stroke-width:0.7"/>
<path class="l" d="M1417.3,1476.5 Q1411.8,1480.4 1413.5,1486.9" style="stroke-width:0.7"/>
<polygon class="p" fill="#fff" points="1413.7,1487.1 1417.5,1476.7 1425.8,1473.9 1433.8,1477.7 1438.3,1485.2 1434.6,1495.5 1426.2,1498.3 1418.3,1494.6"/>
<polygon class="p" fill="#fff" points="1434.6,1495.5 1426.2,1498.3 1421.7,1490.8 1425.4,1480.5 1433.8,1477.7 1438.3,1485.2"/>
<polyline class="l" points="1426.2,1498.3 1418.3,1494.6"/>
<polyline class="l" points="1421.7,1490.8 1413.7,1487.1"/>
<polyline class="l" points="1425.4,1480.5 1417.5,1476.7"/>
<polyline class="l" points="1433.8,1477.7 1425.8,1473.9"/>
<polygon class="p" fill="#fff" points="853.8,1297.5 853.9,1295.3 854.1,1293.1 854.6,1290.9 855.3,1288.7 856.2,1286.6 857.2,1284.7 858.5,1282.9 859.8,1281.3 861.2,1279.9 862.8,1278.8 864.3,1277.9 866,1277.3 867.6,1276.9 869.2,1276.9 870.7,1277.2 872.2,1277.7 874.1,1278.4 875.5,1279.3 876.7,1280.4 877.8,1281.7 878.7,1283.3 879.5,1285 880,1286.9 880.4,1289 880.5,1291.1 880.5,1293.3 880.2,1295.6 879.7,1297.8 879,1300 878.1,1302 877.1,1304 875.9,1305.8 874.5,1307.4 873.1,1308.8 871.6,1309.9 870,1310.8 868.4,1311.4 866.8,1311.7 865.1,1311.8 863.6,1311.5 862.1,1311 860.3,1310.2 858.9,1309.4 857.6,1308.3 856.5,1307 855.6,1305.4 854.9,1303.7 854.3,1301.8 853.9,1299.7"/>
<ellipse class="p" style="fill:#fff" cx="868.1" cy="1294.7" rx="12" ry="17.4" transform="rotate(15 868.1 1294.7)"/>
<polygon class="p" fill="#fff" points="861.3,1296.7 861.3,1295.4 861.5,1294.2 861.7,1293 862.1,1291.8 862.6,1290.7 863.2,1289.6 863.8,1288.6 864.5,1287.7 865.3,1287 866.2,1286.3 867.1,1285.8 868,1285.5 868.8,1285.3 869.7,1285.3 870.6,1285.5 871.4,1285.8 886.9,1291.7 887.7,1292.2 888.4,1292.8 889,1293.5 889.5,1294.4 889.9,1295.3 890.2,1296.4 890.4,1297.5 890.5,1298.7 890.4,1299.9 890.3,1301.2 890,1302.4 889.6,1303.6 889.1,1304.7 888.6,1305.8 887.9,1306.8 887.2,1307.7 886.4,1308.4 885.5,1309 884.7,1309.5 883.8,1309.9 882.9,1310 882,1310.1 881.2,1309.9 880.4,1309.6 864.8,1303.6 864.1,1303.2 863.4,1302.6 862.8,1301.8 862.2,1301 861.8,1300 861.5,1299 861.3,1297.8"/>
<polygon class="p" fill="#fff" points="869.7,1304.9 869.8,1302.3 870.1,1299.8 870.7,1297.2 871.5,1294.7 872.5,1292.3 873.7,1290.1 875,1288 876.5,1286.2 878.1,1284.6 879.9,1283.2 881.6,1282.2 883.5,1281.5 885.3,1281.1 887.1,1281.1 888.8,1281.4 890.5,1282 892.3,1282.7 893.9,1283.6 895.2,1284.9 896.5,1286.4 897.5,1288.2 898.3,1290.2 898.9,1292.4 899.3,1294.7 899.4,1297.2 899.3,1299.8 899,1302.3 898.4,1304.9 897.7,1307.4 896.7,1309.8 895.5,1312 894.1,1314.1 892.6,1315.9 891,1317.5 889.3,1318.8 887.5,1319.9 885.7,1320.6 883.9,1321 882.1,1321 880.3,1320.7 878.7,1320.1 876.8,1319.4 875.3,1318.4 873.9,1317.2 872.7,1315.7 871.6,1313.9 870.8,1311.9 870.2,1309.7 869.8,1307.3"/>
<ellipse class="p" style="fill:#fff" cx="885.5" cy="1301.4" rx="13.4" ry="20" transform="rotate(15 885.5 1301.4)"/>
<ellipse class="p" style="fill:#fff" cx="885.5" cy="1301.4" rx="6.7" ry="9.3" transform="rotate(15 885.5 1301.4)"/>
<ellipse class="p" style="fill:#fff" cx="886.3" cy="1301.9" rx="5.4" ry="7.9" transform="rotate(15 886.3 1301.9)"/>
<polyline class="c" points="890,1305 903,1312"/>
<polygon class="p" fill="#fff" points="897.3,1319.1 897.3,1318 897.4,1316.8 897.6,1315.7 897.9,1314.5 898.3,1313.3 898.8,1312.1 899.3,1311 899.9,1310 900.6,1309.1 901.2,1308.2 902,1307.5 902.7,1306.9 903.5,1306.4 904.2,1306.1 904.9,1305.9 905.6,1305.9 906.2,1306.1 906.8,1306.4 943.8,1326.4 944.4,1326.8 944.8,1327.4 945.2,1328.1 945.4,1329 945.6,1329.9 945.7,1330.9 945.7,1332 945.6,1333.2 945.4,1334.3 945.1,1335.5 944.7,1336.7 944.2,1337.9 943.7,1339 943.1,1340 942.4,1340.9 941.8,1341.8 941,1342.5 940.3,1343.1 939.5,1343.6 938.8,1343.9 938.1,1344.1 937.4,1344.1 936.8,1343.9 936.2,1343.6 899.2,1323.6 898.6,1323.2 898.2,1322.6 897.8,1321.9 897.6,1321 897.4,1320.1"/>
<path class="p" d="M932,1326 C940,1321 952,1320 956,1330 C957,1340 952,1360 945,1365 C938,1366 932,1355 931,1340 Z"/>
<ellipse class="p" style="fill:#fff" cx="945.5" cy="1337.4" rx="6.2" ry="9" transform="rotate(20 945.5 1337.4)"/>
<ellipse class="p" style="fill:#fff" cx="946" cy="1338" rx="4.8" ry="7.5" transform="rotate(20 946 1338)"/>
<ellipse class="p" style="fill:#fff" cx="944.2" cy="1358.8" rx="2.6" ry="3" transform="rotate(20 944.2 1358.8)"/>
<polyline class="c" points="948,1362 958,1367"/>
<polygon class="p" fill="#fff" points="954.5,1367.5 954.5,1366.8 954.6,1366 954.7,1365.3 955,1364.5 955.3,1363.8 955.6,1363.1 956,1362.5 956.5,1361.9 957,1361.4 957.6,1361 958.2,1360.6 958.8,1360.4 959.4,1360.2 959.9,1360.2 960.5,1360.2 961,1360.4 968,1363.4 968.6,1363.6 969,1363.9 969.4,1364.3 969.8,1364.8 970.1,1365.4 970.3,1366 970.5,1366.7 970.5,1367.5 970.5,1368.2 970.4,1369 970.3,1369.7 970,1370.5 969.7,1371.2 969.4,1371.9 969,1372.5 968.5,1373.1 968,1373.6 967.4,1374 966.8,1374.4 966.2,1374.6 965.6,1374.8 965.1,1374.8 964.5,1374.8 964,1374.6 957,1371.6 956.4,1371.4 956,1371.1 955.6,1370.7 955.2,1370.2 954.9,1369.6 954.7,1369 954.5,1368.3"/>
<ellipse class="p" style="fill:#fff" cx="966" cy="1369" rx="4.3" ry="6" transform="rotate(20 966 1369)"/>
<ellipse class="p" style="fill:#fff" cx="966" cy="1369" rx="2.1" ry="3.3" transform="rotate(20 966 1369)"/>
<ellipse class="p" style="fill:#fff" cx="976.8" cy="1376.2" rx="6.7" ry="9.3" transform="rotate(20 976.8 1376.2)"/>
<ellipse class="p" style="fill:#fff" cx="976.8" cy="1376.2" rx="2" ry="3" transform="rotate(20 976.8 1376.2)"/>
<polygon class="p" fill="#fff" points="979.7,1380 979.7,1379.4 979.7,1378.8 979.9,1378.3 980,1377.7 980.3,1377.2 980.5,1376.7 980.9,1376.2 981.2,1375.8 981.6,1375.4 982,1375 982.4,1374.8 982.9,1374.6 983.3,1374.5 983.7,1374.4 984.1,1374.5 984.5,1374.6 984.9,1374.8 1007.9,1389 1008.2,1389.2 1008.5,1389.5 1008.8,1389.9 1009,1390.3 1009.2,1390.8 1009.3,1391.3 1009.3,1391.8 1009.3,1392.4 1009.3,1393 1009.1,1393.5 1009,1394.1 1008.7,1394.6 1008.5,1395.1 1008.1,1395.6 1007.8,1396 1007.4,1396.4 1007,1396.8 1006.6,1397 1006.1,1397.2 1005.7,1397.3 1005.3,1397.4 1004.9,1397.3 1004.5,1397.2 1004.1,1397 981.1,1382.8 980.8,1382.6 980.5,1382.3 980.2,1381.9 980,1381.5 979.8,1381 979.7,1380.5"/>
<ellipse class="p" style="fill:#fff" cx="1006" cy="1393" rx="3.1" ry="4.5" transform="rotate(20 1006 1393)"/>
<path class="l" d="M990.0,1377.7 Q985.5,1380.9 986.9,1386.2" style="stroke-width:0.7"/>
<path class="l" d="M994.6,1380.6 Q990.1,1383.7 991.5,1389.0" style="stroke-width:0.7"/>
<path class="l" d="M999.2,1383.4 Q994.7,1386.6 996.1,1391.9" style="stroke-width:0.7"/>
<path class="l" d="M1003.8,1386.2 Q999.3,1389.4 1000.7,1394.7" style="stroke-width:0.7"/>
<polygon class="p" fill="#fff" points="1001.6,1396.4 1005,1387 1012.6,1384.4 1019.4,1388.6 1023.6,1395.4 1020.1,1404.8 1012.6,1407.4 1005.8,1403.2"/>
<polygon class="p" fill="#fff" points="1020.1,1404.8 1012.6,1407.4 1008.4,1400.6 1011.9,1391.2 1019.4,1388.6 1023.6,1395.4"/>
<polyline class="l" points="1012.6,1407.4 1005.8,1403.2"/>
<polyline class="l" points="1008.4,1400.6 1001.6,1396.4"/>
<polyline class="l" points="1011.9,1391.2 1005,1387"/>
<polyline class="l" points="1019.4,1388.6 1012.6,1384.4"/>
<polygon class="p" fill="#fff" points="518.5,1233.6 518.6,1231.3 519,1229 519.7,1226.7 520.5,1224.5 521.5,1222.4 522.7,1220.5 524.1,1218.7 525.6,1217.1 527.2,1215.8 528.8,1214.7 530.6,1213.9 532.3,1213.3 534,1213.1 535.8,1213.2 537.4,1213.5 538.9,1214.2 540.7,1215.1 542.1,1216.1 543.4,1217.3 544.5,1218.8 545.4,1220.4 546.1,1222.3 546.6,1224.3 546.9,1226.5 547,1228.7 546.8,1231 546.4,1233.3 545.8,1235.6 544.9,1237.8 543.9,1239.8 542.7,1241.8 541.4,1243.6 539.9,1245.2 538.3,1246.5 536.6,1247.6 534.9,1248.4 533.1,1248.9 531.4,1249.2 529.7,1249.1 528,1248.7 526.5,1248.1 524.7,1247.1 523.3,1246.2 522,1245 520.9,1243.5 520,1241.8 519.3,1240 518.8,1238 518.5,1235.8"/>
<ellipse class="p" style="fill:#fff" cx="533.6" cy="1231.6" rx="12.8" ry="18" transform="rotate(18 533.6 1231.6)"/>
<polygon class="p" fill="#fff" points="526.2,1233.2 526.3,1231.9 526.6,1230.7 526.9,1229.4 527.4,1228.2 527.9,1227.1 528.6,1226 529.3,1225 530.1,1224.1 531,1223.4 532,1222.8 532.9,1222.4 533.9,1222.1 534.8,1221.9 535.8,1222 536.7,1222.2 537.5,1222.5 551,1229.7 551.8,1230.2 552.5,1230.9 553.1,1231.7 553.6,1232.6 554,1233.6 554.3,1234.8 554.5,1235.9 554.5,1237.2 554.4,1238.4 554.2,1239.7 553.8,1240.9 553.4,1242.2 552.8,1243.3 552.1,1244.4 551.4,1245.4 550.6,1246.2 549.7,1247 548.8,1247.6 547.8,1248 546.9,1248.3 545.9,1248.4 545,1248.4 544.1,1248.2 543.2,1247.8 529.7,1240.7 528.9,1240.1 528.2,1239.5 527.6,1238.7 527.1,1237.8 526.7,1236.7 526.4,1235.6 526.3,1234.4"/>
<polygon class="p" fill="#fff" points="532.3,1241.5 532.4,1239.1 532.8,1236.7 533.4,1234.3 534.3,1232 535.4,1229.8 536.7,1227.8 538.2,1226 539.8,1224.3 541.6,1223 543.4,1221.9 545.3,1221 547.3,1220.5 549.2,1220.3 551.1,1220.5 552.9,1220.9 554.7,1221.6 556.5,1222.5 558.1,1223.6 559.5,1224.9 560.8,1226.4 561.9,1228.2 562.7,1230.2 563.3,1232.3 563.7,1234.6 563.8,1237 563.6,1239.4 563.2,1241.8 562.6,1244.2 561.7,1246.5 560.6,1248.6 559.3,1250.7 557.9,1252.5 556.2,1254.1 554.5,1255.5 552.6,1256.6 550.7,1257.4 548.8,1257.9 546.8,1258.1 544.9,1258 543.1,1257.6 541.4,1256.8 539.6,1255.9 538,1254.9 536.5,1253.6 535.2,1252 534.2,1250.2 533.3,1248.3 532.7,1246.1 532.4,1243.8"/>
<ellipse class="p" style="fill:#fff" cx="548.9" cy="1239.7" rx="14.4" ry="18.8" transform="rotate(18 548.9 1239.7)"/>
<ellipse class="p" style="fill:#fff" cx="548.9" cy="1239.7" rx="8.4" ry="10.4" transform="rotate(18 548.9 1239.7)"/>
<ellipse class="p" style="fill:#fff" cx="549.7" cy="1240.2" rx="6.7" ry="8.8" transform="rotate(18 549.7 1240.2)"/>
<polyline class="c" points="428,1169 524.2,1223.7"/>
<polyline class="c" points="416,1232 586.5,1328.2"/>
<polyline class="c" points="556,1244 566,1250"/>
<polygon class="p" fill="#fff" points="563.4,1254.2 563.5,1253.2 563.7,1252 563.9,1250.9 564.3,1249.8 564.7,1248.7 565.3,1247.7 565.8,1246.7 566.5,1245.8 567.1,1245 567.9,1244.3 568.6,1243.8 569.3,1243.3 570,1243 570.8,1242.9 571.4,1242.9 572.1,1243 572.7,1243.3 615.7,1265.8 616.2,1266.3 616.6,1266.8 617,1267.5 617.3,1268.3 617.5,1269.2 617.6,1270.2 617.6,1271.2 617.5,1272.3 617.3,1273.5 617.1,1274.6 616.7,1275.7 616.3,1276.8 615.7,1277.8 615.2,1278.8 614.5,1279.7 613.9,1280.5 613.1,1281.2 612.4,1281.8 611.7,1282.2 611,1282.5 610.2,1282.6 609.6,1282.6 608.9,1282.5 608.3,1282.2 565.3,1259.7 564.8,1259.2 564.4,1258.7 564,1258 563.7,1257.2 563.5,1256.3 563.4,1255.3"/>
<polygon class="p" fill="#fff" points="598.5,1289.7 602.5,1293.7 612.1,1292.1 626.6,1281.7 628.2,1270.5 621.8,1266.5 612.1,1270.5 600.1,1281.7"/>
<path class="l" d="M601,1279 L612,1268 L620,1265" style="stroke-width:0.8"/>
<ellipse class="p" style="fill:#fff" cx="621" cy="1280.1" rx="5.8" ry="8.3" transform="rotate(20 621 1280.1)"/>
<ellipse class="p" style="fill:#fff" cx="621.6" cy="1280.6" rx="4.5" ry="7" transform="rotate(20 621.6 1280.6)"/>
<ellipse class="p" style="fill:#fff" cx="606.5" cy="1287.3" rx="2.3" ry="3" transform="rotate(20 606.5 1287.3)"/>
<polyline class="c" points="610,1290 622,1296"/>
<polygon class="p" fill="#fff" points="619.7,1298.8 619.7,1297.9 619.8,1297 620,1296.2 620.3,1295.3 620.6,1294.5 621.1,1293.7 621.6,1292.9 622.1,1292.2 622.7,1291.6 623.4,1291.1 624,1290.7 624.7,1290.5 625.4,1290.3 626.1,1290.2 626.8,1290.3 627.4,1290.4 628,1290.7 635,1294.7 635.5,1295.1 636,1295.6 636.4,1296.2 636.8,1296.8 637,1297.6 637.2,1298.3 637.3,1299.2 637.3,1300.1 637.2,1301 637,1301.8 636.7,1302.7 636.4,1303.5 635.9,1304.3 635.4,1305.1 634.9,1305.8 634.3,1306.4 633.6,1306.9 633,1307.3 632.3,1307.5 631.6,1307.7 630.9,1307.8 630.2,1307.7 629.6,1307.6 629,1307.3 622,1303.3 621.5,1302.9 621,1302.4 620.6,1301.8 620.2,1301.2 620,1300.4 619.8,1299.7"/>
<ellipse class="p" style="fill:#fff" cx="632" cy="1301" rx="5" ry="7" transform="rotate(20 632 1301)"/>
<ellipse class="p" style="fill:#fff" cx="632" cy="1301" rx="2.5" ry="3.9" transform="rotate(20 632 1301)"/>
<ellipse class="p" style="fill:#fff" cx="643.6" cy="1308.3" rx="7.6" ry="10.3" transform="rotate(20 643.6 1308.3)"/>
<ellipse class="p" style="fill:#fff" cx="643.6" cy="1308.3" rx="2.5" ry="3" transform="rotate(20 643.6 1308.3)"/>
<polygon class="p" fill="#fff" points="650.5,1313.4 650.5,1312.8 650.5,1312.2 650.7,1311.7 650.8,1311.1 651.1,1310.6 651.3,1310.1 651.6,1309.6 652,1309.2 652.4,1308.8 652.8,1308.5 653.2,1308.2 653.6,1308 654.1,1307.9 654.5,1307.8 654.9,1307.9 655.3,1308 655.7,1308.2 674.9,1320.5 675.2,1320.7 675.5,1321 675.8,1321.4 676,1321.8 676.2,1322.3 676.3,1322.8 676.3,1323.3 676.3,1323.9 676.3,1324.5 676.1,1325 676,1325.6 675.7,1326.1 675.5,1326.6 675.1,1327.1 674.8,1327.5 674.4,1327.9 674,1328.2 673.6,1328.5 673.1,1328.7 672.7,1328.8 672.3,1328.9 671.9,1328.8 671.5,1328.7 671.1,1328.5 651.9,1316.2 651.5,1316 651.2,1315.7 651,1315.3 650.8,1314.9 650.6,1314.4 650.5,1313.9"/>
<ellipse class="p" style="fill:#fff" cx="673" cy="1324.5" rx="3.1" ry="4.5" transform="rotate(20 673 1324.5)"/>
<path class="l" d="M660.0,1310.7 Q655.5,1313.9 656.9,1319.2" style="stroke-width:0.7"/>
<path class="l" d="M663.9,1313.2 Q659.4,1316.4 660.8,1321.7" style="stroke-width:0.7"/>
<path class="l" d="M667.7,1315.7 Q663.2,1318.8 664.6,1324.1" style="stroke-width:0.7"/>
<path class="l" d="M671.5,1318.1 Q667.0,1321.3 668.5,1326.6" style="stroke-width:0.7"/>
<polygon class="p" fill="#fff" points="668.1,1327.4 671.2,1319 678,1316.7 684.1,1320.5 687.8,1326.7 684.7,1335.2 677.9,1337.5 671.9,1333.6"/>
<polygon class="p" fill="#fff" points="684.7,1335.1 677.9,1337.5 674.2,1331.3 677.3,1322.9 684.1,1320.5 687.8,1326.7"/>
<polyline class="l" points="677.9,1337.5 671.9,1333.6"/>
<polyline class="l" points="674.2,1331.3 668.1,1327.4"/>
<polyline class="l" points="677.3,1322.9 671.2,1319"/>
<polyline class="l" points="684.1,1320.5 678,1316.7"/>
<polygon class="p" fill="#fff" points="582.4,1335.8 582.5,1334.7 582.7,1333.5 582.9,1332.4 583.3,1331.3 583.7,1330.2 584.3,1329.2 584.8,1328.2 585.5,1327.3 586.1,1326.5 586.9,1325.8 587.6,1325.2 588.3,1324.8 589,1324.5 589.8,1324.4 590.4,1324.4 591.1,1324.5 591.7,1324.8 625.7,1342.8 626.2,1343.3 626.6,1343.8 627,1344.5 627.3,1345.3 627.5,1346.2 627.6,1347.2 627.6,1348.2 627.5,1349.3 627.3,1350.5 627.1,1351.6 626.7,1352.7 626.3,1353.8 625.7,1354.8 625.2,1355.8 624.5,1356.7 623.9,1357.5 623.1,1358.2 622.4,1358.8 621.7,1359.2 621,1359.5 620.2,1359.6 619.6,1359.6 618.9,1359.5 618.3,1359.2 584.3,1341.2 583.8,1340.7 583.4,1340.2 583,1339.5 582.7,1338.7 582.5,1337.8 582.4,1336.8"/>
<polygon class="p" fill="#fff" points="617,1352 621.8,1368.3 628.2,1370 653.8,1349 652.2,1337.8 644.2,1337 626.6,1342.6"/>
<path class="l" d="M619,1350 L628,1340 L644,1335" style="stroke-width:0.8"/>
<ellipse class="p" style="fill:#fff" cx="631.4" cy="1356.2" rx="6.5" ry="8.5" transform="rotate(20 631.4 1356.2)"/>
<ellipse class="p" style="fill:#fff" cx="632" cy="1356.7" rx="5" ry="7" transform="rotate(20 632 1356.7)"/>
<ellipse class="p" style="fill:#fff" cx="648.2" cy="1345.8" rx="2.4" ry="3" transform="rotate(20 648.2 1345.8)"/>
<polyline class="c" points="652,1352 662,1356"/>
<polygon class="p" fill="#fff" points="659.3,1354.7 659.4,1354 659.5,1353.2 659.8,1352.5 660.1,1351.7 660.5,1351 660.9,1350.4 661.4,1349.8 661.9,1349.3 662.5,1348.9 663,1348.6 663.7,1348.3 664.3,1348.2 664.9,1348.2 665.5,1348.2 666,1348.4 666.6,1348.6 672.6,1351.6 673.1,1352 673.5,1352.4 673.9,1352.9 674.2,1353.5 674.4,1354.1 674.6,1354.8 674.7,1355.5 674.7,1356.3 674.6,1357 674.5,1357.8 674.2,1358.5 673.9,1359.3 673.5,1360 673.1,1360.6 672.6,1361.2 672.1,1361.7 671.5,1362.1 671,1362.4 670.3,1362.7 669.7,1362.8 669.1,1362.8 668.5,1362.8 668,1362.6 667.4,1362.4 661.4,1359.4 660.9,1359 660.5,1358.6 660.1,1358.1 659.8,1357.5 659.6,1356.9 659.4,1356.2 659.3,1355.5"/>
<ellipse class="p" style="fill:#fff" cx="670" cy="1357" rx="4.5" ry="6" transform="rotate(20 670 1357)"/>
<ellipse class="p" style="fill:#fff" cx="670" cy="1357" rx="2.2" ry="3.3" transform="rotate(20 670 1357)"/>
<ellipse class="p" style="fill:#fff" cx="680.2" cy="1364.2" rx="6.2" ry="8.6" transform="rotate(20 680.2 1364.2)"/>
<ellipse class="p" style="fill:#fff" cx="680.2" cy="1364.2" rx="2" ry="3" transform="rotate(20 680.2 1364.2)"/>
<polygon class="p" fill="#fff" points="684.1,1367.9 684.1,1367.3 684.1,1366.8 684.3,1366.2 684.4,1365.6 684.7,1365.1 684.9,1364.6 685.2,1364.1 685.6,1363.7 686,1363.3 686.4,1363 686.8,1362.7 687.2,1362.5 687.7,1362.4 688.1,1362.3 688.5,1362.4 688.9,1362.5 689.3,1362.7 709.9,1374.5 710.2,1374.7 710.5,1375 710.8,1375.4 711,1375.8 711.2,1376.3 711.3,1376.8 711.3,1377.3 711.3,1377.9 711.3,1378.5 711.1,1379 711,1379.6 710.7,1380.1 710.5,1380.6 710.1,1381.1 709.8,1381.5 709.4,1381.9 709,1382.2 708.6,1382.5 708.1,1382.7 707.7,1382.8 707.3,1382.9 706.9,1382.8 706.5,1382.7 706.1,1382.5 685.5,1370.8 685.1,1370.5 684.9,1370.2 684.6,1369.8 684.4,1369.4 684.2,1368.9 684.1,1368.4"/>
<ellipse class="p" style="fill:#fff" cx="708" cy="1378.5" rx="3.1" ry="4.5" transform="rotate(20 708 1378.5)"/>
<path class="l" d="M693.9,1365.1 Q689.4,1368.3 690.8,1373.6" style="stroke-width:0.7"/>
<path class="l" d="M698.0,1367.5 Q693.5,1370.7 694.9,1376.0" style="stroke-width:0.7"/>
<path class="l" d="M702.1,1369.9 Q697.6,1373.0 699.1,1378.3" style="stroke-width:0.7"/>
<path class="l" d="M706.3,1372.2 Q701.8,1375.4 703.2,1380.7" style="stroke-width:0.7"/>
<polygon class="p" fill="#fff" points="704.2,1384.7 707.5,1375.7 714.6,1373.3 721.2,1377.1 725.2,1383.6 721.9,1392.5 714.8,1394.9 708.2,1391.2"/>
<polygon class="p" fill="#fff" points="721.9,1392.5 714.8,1394.9 710.8,1388.4 714.1,1379.5 721.2,1377.1 725.2,1383.6"/>
<polyline class="l" points="714.8,1394.9 708.2,1391.1"/>
<polyline class="l" points="710.8,1388.4 704.2,1384.7"/>
<polyline class="l" points="714.1,1379.5 707.5,1375.7"/>
<polyline class="l" points="721.2,1377.1 714.7,1373.3"/>
<polyline class="c" points="323.4,1308.4 393.5,1348.4 331.8,1385.1 338.4,1390.1"/>
<polygon class="p" fill="#fff" points="337.5,1395.5 337.6,1394.1 337.8,1392.7 338.1,1391.4 338.6,1390 339.2,1388.7 339.9,1387.5 340.7,1386.3 341.6,1385.3 342.6,1384.4 343.7,1383.7 344.8,1383.1 345.9,1382.7 347,1382.4 348.1,1382.4 349.1,1382.5 350.1,1382.8 351.1,1383.3 367.1,1392.3 367.9,1392.9 368.6,1393.7 369.3,1394.7 369.8,1395.7 370.2,1396.9 370.4,1398.2 370.5,1399.5 370.4,1400.9 370.2,1402.3 369.9,1403.6 369.4,1405 368.8,1406.3 368.1,1407.5 367.3,1408.7 366.4,1409.7 365.4,1410.6 364.3,1411.3 363.2,1411.9 362.1,1412.3 361,1412.6 359.9,1412.6 358.9,1412.5 357.9,1412.2 356.9,1411.7 340.9,1402.7 340.1,1402.1 339.4,1401.3 338.7,1400.3 338.2,1399.3 337.8,1398.1 337.6,1396.8"/>
<ellipse class="p" style="fill:#fff" cx="362" cy="1402" rx="8" ry="11" transform="rotate(22 362 1402)"/>
<polygon class="p" fill="#fff" points="357.5,1406.5 357.6,1405.1 357.8,1403.7 358.1,1402.4 358.6,1401 359.2,1399.7 359.9,1398.5 360.7,1397.3 361.6,1396.3 362.6,1395.4 363.7,1394.7 364.8,1394.1 365.9,1393.7 367,1393.4 368.1,1393.4 369.1,1393.5 370.1,1393.8 371.1,1394.3 387.1,1403.3 387.9,1403.9 388.6,1404.7 389.3,1405.7 389.8,1406.7 390.2,1407.9 390.4,1409.2 390.5,1410.5 390.4,1411.9 390.2,1413.3 389.9,1414.6 389.4,1416 388.8,1417.3 388.1,1418.5 387.3,1419.7 386.4,1420.7 385.4,1421.6 384.3,1422.3 383.2,1422.9 382.1,1423.3 381,1423.6 379.9,1423.6 378.9,1423.5 377.9,1423.2 376.9,1422.7 360.9,1413.7 360.1,1413.1 359.4,1412.3 358.7,1411.3 358.2,1410.3 357.8,1409.1 357.6,1407.8"/>
<ellipse class="p" style="fill:#fff" cx="382" cy="1413" rx="8" ry="11" transform="rotate(22 382 1413)"/>
<ellipse class="p" style="fill:#fff" cx="382" cy="1413" rx="5.5" ry="8" transform="rotate(22 382 1413)"/>
<polyline class="c" points="388,1416 400,1422"/>
<ellipse class="p" style="fill:#fff" cx="406.9" cy="1426.9" rx="11" ry="14" transform="rotate(20 406.9 1426.9)"/>
<ellipse class="p" style="fill:#fff" cx="406.9" cy="1426.9" rx="5" ry="6.7" transform="rotate(20 406.9 1426.9)"/>
<ellipse class="p" style="fill:#fff" cx="426.9" cy="1436.9" rx="11" ry="14" transform="rotate(20 426.9 1436.9)"/>
<ellipse class="p" style="fill:#fff" cx="426.9" cy="1436.9" rx="5" ry="6.7" transform="rotate(20 426.9 1436.9)"/>
<polyline class="c" points="432,1440 442,1446"/>
<polygon class="d" style="fill:#fff" points="435.2,1452.9 435.2,1451.8 435.4,1450.6 435.6,1449.5 435.9,1448.3 436.4,1447.1 436.9,1446 437.4,1444.9 438.1,1443.9 438.8,1443 439.5,1442.2 440.2,1441.5 441,1440.9 441.8,1440.4 442.5,1440.2 443.2,1440 443.9,1440 444.6,1440.2 493.6,1467.2 494.1,1467.5 494.6,1468 495.1,1468.6 495.4,1469.3 495.6,1470.2 495.8,1471.1 495.8,1472.1 495.8,1473.2 495.6,1474.4 495.4,1475.5 495.1,1476.7 494.6,1477.9 494.1,1479 493.6,1480.1 492.9,1481.1 492.2,1482 491.5,1482.8 490.8,1483.5 490,1484.1 489.2,1484.6 488.5,1484.8 487.8,1485 487.1,1485 486.4,1484.8 437.4,1457.8 436.9,1457.5 436.4,1457 435.9,1456.4 435.6,1455.7 435.4,1454.8 435.2,1453.9"/>
<path class="p" d="M484,1470 C486,1460 494,1454 500,1456 C504,1462 503,1480 497,1488 C490,1491 484,1485 484,1470 Z"/>
<ellipse class="p" style="fill:#fff" cx="494" cy="1476" rx="5" ry="7.5" transform="rotate(20 494 1476)"/>
<ellipse class="p" style="fill:#fff" cx="498" cy="1461" rx="2" ry="2.5" transform="rotate(20 498 1461)"/>
<polygon class="p" fill="#fff" points="504.7,1473.8 504.7,1472.9 504.8,1472 505,1471.2 505.3,1470.3 505.6,1469.5 506.1,1468.7 506.6,1467.9 507.1,1467.2 507.7,1466.6 508.4,1466.1 509,1465.7 509.7,1465.5 510.4,1465.3 511.1,1465.2 511.8,1465.3 512.4,1465.4 513,1465.7 522,1470.7 522.5,1471.1 523,1471.6 523.4,1472.2 523.8,1472.8 524,1473.6 524.2,1474.3 524.3,1475.2 524.3,1476.1 524.2,1477 524,1477.8 523.7,1478.7 523.4,1479.5 522.9,1480.3 522.4,1481.1 521.9,1481.8 521.3,1482.4 520.6,1482.9 520,1483.3 519.3,1483.5 518.6,1483.7 517.9,1483.8 517.2,1483.7 516.6,1483.6 516,1483.3 507,1478.3 506.5,1477.9 506,1477.4 505.6,1476.8 505.2,1476.2 505,1475.4 504.8,1474.7"/>
<ellipse class="p" style="fill:#fff" cx="519" cy="1477" rx="5" ry="7" transform="rotate(20 519 1477)"/>
<ellipse class="p" style="fill:#fff" cx="519" cy="1477" rx="2.5" ry="3.9" transform="rotate(20 519 1477)"/>
<ellipse class="p" style="fill:#fff" cx="532" cy="1483.6" rx="8.3" ry="10.7" transform="rotate(20 532 1483.6)"/>
<ellipse class="p" style="fill:#fff" cx="532" cy="1483.6" rx="2.5" ry="3" transform="rotate(20 532 1483.6)"/>
<polygon class="p" fill="#fff" points="537.1,1491.5 537.1,1490.9 537.1,1490.3 537.3,1489.8 537.4,1489.2 537.7,1488.7 537.9,1488.2 538.2,1487.7 538.6,1487.2 539,1486.9 539.4,1486.5 539.8,1486.3 540.2,1486.1 540.7,1486 541.1,1485.9 541.5,1486 541.9,1486.1 542.3,1486.2 561.9,1499 562.2,1499.2 562.5,1499.5 562.8,1499.9 563,1500.3 563.2,1500.8 563.3,1501.3 563.3,1501.8 563.3,1502.4 563.3,1503 563.1,1503.5 563,1504.1 562.7,1504.6 562.5,1505.1 562.1,1505.6 561.8,1506 561.4,1506.4 561,1506.8 560.6,1507 560.1,1507.2 559.7,1507.3 559.3,1507.4 558.9,1507.3 558.5,1507.2 558.1,1507 538.5,1494.3 538.1,1494.1 537.9,1493.8 537.6,1493.4 537.4,1493 537.2,1492.5 537.1,1492"/>
<ellipse class="p" style="fill:#fff" cx="560" cy="1503" rx="3.1" ry="4.5" transform="rotate(20 560 1503)"/>
<path class="l" d="M546.7,1488.9 Q542.2,1492.1 543.6,1497.4" style="stroke-width:0.7"/>
<path class="l" d="M550.6,1491.5 Q546.1,1494.6 547.5,1499.9" style="stroke-width:0.7"/>
<path class="l" d="M554.5,1494.0 Q550.0,1497.2 551.5,1502.5" style="stroke-width:0.7"/>
<path class="l" d="M558.5,1496.5 Q554.0,1499.7 555.4,1505.0" style="stroke-width:0.7"/>
<polygon class="p" fill="#fff" points="554.7,1506.2 558.1,1496.8 565.7,1494.2 572.4,1498.6 576.6,1505.4 573.1,1514.8 565.6,1517.4 558.9,1513"/>
<polygon class="p" fill="#fff" points="573.1,1514.8 565.6,1517.4 561.4,1510.6 564.9,1501.2 572.4,1498.6 576.6,1505.4"/>
<polyline class="l" points="565.6,1517.4 558.9,1513"/>
<polyline class="l" points="561.4,1510.6 554.7,1506.2"/>
<polyline class="l" points="564.9,1501.2 558.1,1496.8"/>
<polyline class="l" points="572.4,1498.6 565.7,1494.3"/>
<polygon class="p" fill="#fff" points="200,1245.8 200.1,1244.5 200.3,1243.3 200.7,1242 201.2,1240.8 201.8,1239.7 202.5,1238.6 203.3,1237.6 204.2,1236.7 205.2,1236 206.2,1235.3 207.2,1234.9 208.3,1234.6 209.3,1234.4 210.3,1234.4 211.3,1234.6 212.2,1234.9 226.2,1241.9 227.1,1242.4 227.8,1243.1 228.5,1243.8 229.1,1244.7 229.5,1245.7 229.8,1246.8 230,1248 230,1249.2 229.9,1250.5 229.7,1251.7 229.3,1253 228.8,1254.2 228.2,1255.3 227.5,1256.4 226.7,1257.4 225.8,1258.3 224.8,1259 223.8,1259.7 222.8,1260.1 221.7,1260.4 220.7,1260.6 219.7,1260.6 218.7,1260.4 217.8,1260.1 203.8,1253.1 202.9,1252.6 202.2,1251.9 201.5,1251.2 200.9,1250.3 200.5,1249.3 200.2,1248.2 200,1247"/>
<ellipse class="p" style="fill:#fff" cx="222" cy="1251" rx="7.5" ry="10" transform="rotate(25 222 1251)"/>
<polygon class="p" fill="#fff" points="218,1255.8 218.1,1254.5 218.3,1253.3 218.7,1252 219.2,1250.8 219.8,1249.7 220.5,1248.6 221.3,1247.6 222.2,1246.7 223.2,1246 224.2,1245.3 225.2,1244.9 226.3,1244.6 227.3,1244.4 228.3,1244.4 229.3,1244.6 230.2,1244.9 245.2,1252.4 246.1,1252.9 246.8,1253.6 247.5,1254.3 248.1,1255.2 248.5,1256.2 248.8,1257.3 249,1258.5 249,1259.7 248.9,1261 248.7,1262.2 248.3,1263.5 247.8,1264.7 247.2,1265.8 246.5,1266.9 245.7,1267.9 244.8,1268.8 243.8,1269.5 242.8,1270.2 241.8,1270.6 240.7,1270.9 239.7,1271.1 238.7,1271.1 237.7,1270.9 236.8,1270.6 221.8,1263.1 220.9,1262.6 220.2,1261.9 219.5,1261.2 218.9,1260.3 218.5,1259.3 218.2,1258.2 218,1257"/>
<ellipse class="p" style="fill:#fff" cx="241" cy="1261.5" rx="7.5" ry="10" transform="rotate(25 241 1261.5)"/>
<ellipse class="p" style="fill:#fff" cx="241" cy="1261.5" rx="5.5" ry="8" transform="rotate(25 241 1261.5)"/>
<polyline class="l" points="237,1260 248,1266"/>
<polyline class="l" points="193,1233 205,1240"/>
<polygon class="p" fill="#fff" points="413.1,1297.7 409.8,1306.9 403,1306.9 399.5,1297.9 402.8,1288.7 409.6,1288.7" style="stroke-width:1.5"/>
<polyline class="l" points="409.8,1306.9 402.8,1288.7" style="stroke-width:0.8"/>
<polygon class="p" fill="#fff" points="409.4,1297.8 409.5,1297.2 409.5,1296.7 409.7,1296.2 409.9,1295.7 410.1,1295.2 410.3,1294.8 410.6,1294.4 411,1294.1 411.4,1293.9 411.7,1293.7 412.1,1293.6 418.5,1292.2 418.9,1292.2 419.4,1292.2 419.8,1292.3 420.2,1292.5 420.5,1292.7 420.9,1293 421.2,1293.4 421.5,1293.8 421.7,1294.3 421.9,1294.8 422,1295.3 422.1,1295.8 422.1,1296.4 422.1,1296.9 422.1,1297.5 421.9,1298 421.8,1298.5 421.5,1298.9 421.3,1299.3 421,1299.7 420.6,1300 420.2,1300.3 419.9,1300.5 419.5,1300.6 413.1,1301.9 412.6,1301.9 412.2,1301.9 411.8,1301.8 411.4,1301.6 411.1,1301.4 410.7,1301.1 410.4,1300.7 410.1,1300.3 409.9,1299.9 409.7,1299.4 409.6,1298.8 409.5,1298.3" style="stroke-width:1.5"/>
<ellipse class="p" style="fill:#fff;stroke-width:1.5" cx="419" cy="1296.4" rx="3.2" ry="4.2" transform="rotate(-0.7 419 1296.4)"/>
<polygon class="p" fill="#fff" points="385.3,1298 385.4,1297.2 385.4,1296.4 385.6,1295.6 385.8,1294.9 386,1294.2 386.4,1293.6 386.7,1293 387.1,1292.6 387.5,1292.2 388,1291.9 388.4,1291.8 388.9,1291.7 403.1,1291.5 403.6,1291.6 404,1291.7 404.5,1292 404.9,1292.4 405.3,1292.8 405.7,1293.3 406,1294 406.3,1294.7 406.5,1295.4 406.7,1296.2 406.8,1297 406.8,1297.8 406.8,1298.6 406.7,1299.4 406.6,1300.2 406.4,1301 406.1,1301.6 405.8,1302.3 405.4,1302.8 405.1,1303.3 404.6,1303.6 404.2,1303.9 403.7,1304.1 403.2,1304.1 389.1,1304.3 388.6,1304.2 388.1,1304.1 387.7,1303.8 387.2,1303.5 386.8,1303 386.4,1302.5 386.1,1301.9 385.9,1301.2 385.6,1300.5 385.5,1299.7 385.4,1298.9" style="stroke-width:1.5"/>
<ellipse class="p" style="fill:#fff;stroke-width:1.5" cx="389" cy="1298" rx="3.7" ry="6.3" transform="rotate(-0.7 389 1298)"/>
<polyline class="l" points="393,1292.7 393.1,1303.2" style="stroke-width:0.7"/>
<polyline class="l" points="397,1292.7 397.1,1303.2" style="stroke-width:0.7"/>
<polygon class="p" fill="#fff" points="221.5,1150.8 225.1,1158.8 220.7,1163.1 212.7,1159.4 209.1,1151.4 213.5,1147.1" style="stroke-width:1.5"/>
<polyline class="l" points="225.1,1158.8 209.1,1151.4" style="stroke-width:0.8"/>
<polygon class="p" fill="#fff" points="217.8,1150.2 217.8,1149.8 217.9,1149.4 218.1,1149 218.3,1148.7 218.5,1148.4 218.8,1148.2 223.6,1145 223.9,1144.9 224.3,1144.7 224.7,1144.7 225.1,1144.6 225.6,1144.7 226,1144.8 226.4,1144.9 226.9,1145.1 227.3,1145.4 227.7,1145.7 228,1146 228.4,1146.4 228.7,1146.8 228.9,1147.2 229.1,1147.6 229.2,1148.1 229.3,1148.5 229.3,1148.9 229.3,1149.3 229.2,1149.7 229.1,1150.1 228.9,1150.4 228.7,1150.7 228.4,1151 223.5,1154.1 223.2,1154.2 222.8,1154.4 222.5,1154.5 222,1154.5 221.6,1154.4 221.2,1154.3 220.7,1154.2 220.3,1154 219.9,1153.7 219.5,1153.4 219.1,1153.1 218.8,1152.7 218.5,1152.3 218.3,1151.9 218.1,1151.5 217.9,1151 217.8,1150.6" style="stroke-width:1.5"/>
<ellipse class="p" style="fill:#fff;stroke-width:1.5" cx="226" cy="1148" rx="2.8" ry="3.8" transform="rotate(-44.5 226 1148)"/>
<polygon class="p" fill="#fff" points="201.4,1163.6 201.4,1163.1 201.5,1162.7 201.7,1162.3 202,1161.9 211.1,1153 211.4,1152.8 211.8,1152.6 212.3,1152.5 212.8,1152.4 213.3,1152.5 213.9,1152.6 214.5,1152.8 215.1,1153 215.7,1153.4 216.3,1153.8 216.9,1154.3 217.4,1154.8 217.9,1155.3 218.4,1155.9 218.8,1156.5 219.1,1157.1 219.4,1157.7 219.6,1158.3 219.7,1158.9 219.7,1159.5 219.7,1160 219.5,1160.4 219.3,1160.8 219.1,1161.2 210,1170.1 209.7,1170.3 209.2,1170.5 208.8,1170.7 208.3,1170.7 207.7,1170.6 207.2,1170.5 206.6,1170.3 205.9,1170 205.3,1169.7 204.7,1169.3 204.2,1168.8 203.6,1168.3 203.1,1167.8 202.7,1167.2 202.3,1166.6 201.9,1166 201.7,1165.4 201.5,1164.8 201.4,1164.2" style="stroke-width:1.5"/>
<ellipse class="p" style="fill:#fff;stroke-width:1.5" cx="206" cy="1166" rx="3.3" ry="5.7" transform="rotate(-44.5 206 1166)"/>
<polyline class="l" points="205.3,1160.1 211.9,1166.8" style="stroke-width:0.7"/>
<polyline class="l" points="207.9,1157.5 214.5,1164.3" style="stroke-width:0.7"/>
<polyline class="c" points="178,1196.3 202.1,1173.6"/>
<text x="235.6" y="744.8">19</text>
<text x="313.4" y="846.2">22</text>
<text x="81" y="887.2">21</text>
<text x="57" y="927.2">52</text>
<text x="92" y="927.2">/</text>
<text x="104" y="927.2">16</text>
<text x="234" y="925.2">49</text>
<text x="217" y="957.2">25</text>
<text x="252" y="957.2">/</text>
<text x="262" y="957.2">24</text>
<text x="150" y="983.2">12</text>
<text x="181.2" y="983.2">/</text>
<text x="192.2" y="983.2">13</text>
<text x="240" y="988.2">23</text>
<text x="218" y="1042.2">15</text>
<text x="187" y="1097.2">51</text>
<text x="478.2" y="671.2">20</text>
<text x="568.3" y="694.2">53</text>
<text x="515.2" y="744.2">22</text>
<text x="491.6" y="865.2">30</text>
<text x="519.3" y="865.2">/</text>
<text x="529" y="865.2">34</text>
<text x="557" y="865.2">/</text>
<text x="567.8" y="865.2">35</text>
<text x="485" y="892.2">33</text>
<text x="523" y="892.2">32</text>
<text x="560.8" y="892.2">31</text>
<text x="673.5" y="783.4">26</text>
<text x="720.2" y="824.5">29</text>
<text x="755.2" y="824.5">28</text>
<text x="790.9" y="824.5">27</text>
<text x="957.2" y="789.2">7</text>
<text x="956.8" y="819.3">6</text>
<text x="986.8" y="846.3">5</text>
<text x="1023.3" y="869.4">43</text>
<text x="1171" y="887.3">44</text>
<text x="1223.1" y="878.2">42</text>
<text x="1289.2" y="878.2">38</text>
<text x="1338.9" y="919.3">41</text>
<text x="1371.7" y="919.3">40</text>
<text x="1408.4" y="919.3">39</text>
<text x="1395" y="1114.6">43</text>
<text x="619.3" y="998.3">54</text>
<text x="388.6" y="1039.9">49</text>
<text x="459.6" y="959.9">12</text>
<text x="490.9" y="959.9">/</text>
<text x="499.2" y="959.9">13</text>
<text x="324.7" y="1017.9">25</text>
<text x="354.3" y="1017.9">/</text>
<text x="362.2" y="1017.9">24</text>
<text x="580.6" y="1225.2">8</text>
<text x="639.3" y="1260">9</text>
<text x="666.4" y="1260">10</text>
<text x="701.1" y="1260">11</text>
<text x="435.4" y="1302.7">15</text>
<text x="476.6" y="1352">17</text>
<text x="512" y="1352">/</text>
<text x="525" y="1352">18</text>
<text x="132.9" y="1122.5">15</text>
<text x="97" y="1159.1">36</text>
<text x="128.7" y="1159.1">/</text>
<text x="139.7" y="1159.1">37</text>
<text x="141.4" y="1272.6">14</text>
<text x="142.4" y="1301.9">36</text>
<text x="172.8" y="1301.9">/</text>
<text x="183.8" y="1301.9">37</text>
<text x="1096.8" y="1318.9">45</text>
<text x="1096.8" y="1345.6">48</text>
<text x="1096.8" y="1372.3">47</text>
<text x="1096.8" y="1399.1">46</text>
<text x="804.7" y="1377.7">17</text>
<text x="840.1" y="1377.7">/</text>
<text x="855.4" y="1377.7">18</text>
<text x="1370.7" y="1409.9">1</text>
<text x="1239.8" y="1458.1">2</text>
<text x="1239.8" y="1499.9">3</text>
<text x="1239.8" y="1534.2">4</text>
<text x="276.4" y="1440.4">14</text>
<text x="279" y="1477.1">52</text>
<text x="313.4" y="1477.1">/</text>
<text x="326.4" y="1477.1">16</text>
<text x="576.1" y="1445.4">8</text>
<text x="622.8" y="1445.4">9</text>
<text x="655.2" y="1445.4">10</text>
<text x="690.2" y="1445.4">11</text>
</svg>
</body></html>
